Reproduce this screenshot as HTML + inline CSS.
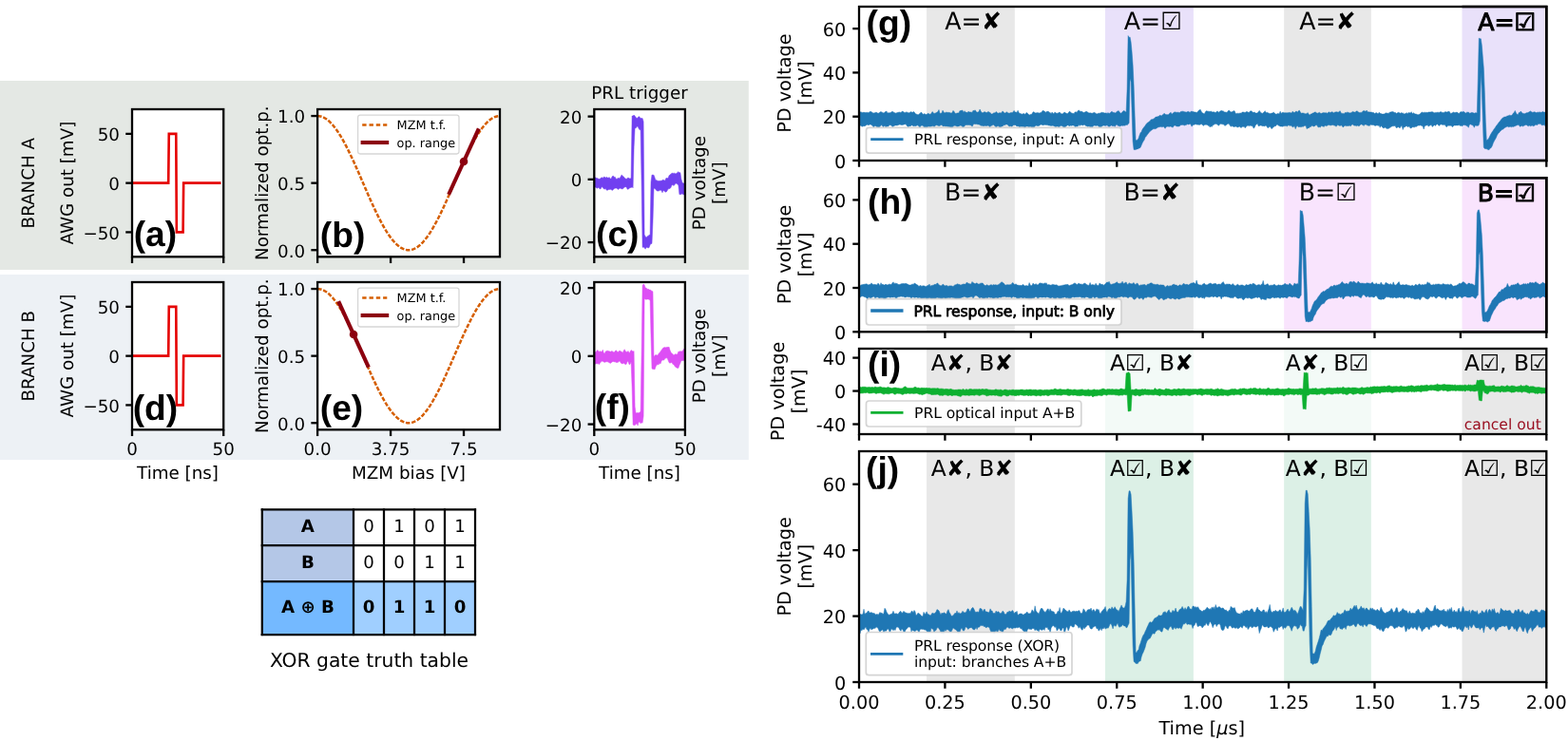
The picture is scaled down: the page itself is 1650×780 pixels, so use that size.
<!DOCTYPE html>
<html lang="en"><head><meta charset="utf-8"><title>XOR gate figure</title>
<style>html,body{margin:0;padding:0;background:#fff;}svg{display:block;}text{font-family:"DejaVu Sans","Liberation Sans",sans-serif;fill:#000;text-rendering:geometricPrecision;}.lb{font-family:"Liberation Sans","DejaVu Sans",sans-serif;font-weight:bold;}.b{font-weight:bold;}</style></head><body>
<svg width="1650" height="780" viewBox="0 0 1650 780">
<rect x="0" y="0" width="1650" height="780" fill="#fff"/>
<rect x="0" y="85" width="787.8" height="199" fill="#e4e8e4" />
<rect x="0" y="289" width="787.8" height="195" fill="#edf1f5" />
<text x="36" y="192.65" font-size="18.3" text-anchor="middle" transform="rotate(-90 36 192.65)" >BRANCH A</text>
<rect x="139" y="115" width="96.2" height="155.3" fill="#fff" />
<polyline points="139,192.65 177.19,192.65 177.77,140.88 185.27,140.88 185.85,244.42 192.58,244.42 193.16,192.65 232.51,192.65" fill="none" stroke="#e50000" stroke-width="2.6" stroke-linejoin="miter"/>
<rect x="139" y="115" width="96.2" height="155.3" fill="none" stroke="#000" stroke-width="2.3"/>
<line x1="132.25" y1="140.88" x2="139" y2="140.88" stroke="#000" stroke-width="2.3" />
<text x="126" y="148.18" font-size="18.3" text-anchor="end" >50</text>
<line x1="132.25" y1="192.65" x2="139" y2="192.65" stroke="#000" stroke-width="2.3" />
<text x="126" y="199.95" font-size="18.3" text-anchor="end" >0</text>
<line x1="132.25" y1="244.42" x2="139" y2="244.42" stroke="#000" stroke-width="2.3" />
<text x="126" y="251.72" font-size="18.3" text-anchor="end" >−50</text>
<line x1="139" y1="270.3" x2="139" y2="277.05" stroke="#000" stroke-width="2.3" />
<line x1="235.2" y1="270.3" x2="235.2" y2="277.05" stroke="#000" stroke-width="2.3" />
<text x="77" y="192.65" font-size="18.3" text-anchor="middle" transform="rotate(-90 77 192.65)" >AWG out [mV]</text>
<text x="163.4" y="259" font-size="37.2" text-anchor="middle" class="lb">(a)</text>
<rect x="334.1" y="115" width="191.9" height="155.3" fill="#fff" />
<polyline points="334.1,122.06 335.7,122.16 337.3,122.45 338.9,122.93 340.5,123.6 342.1,124.46 343.7,125.51 345.29,126.75 346.89,128.16 348.49,129.75 350.09,131.52 351.69,133.45 353.29,135.54 354.89,137.79 356.49,140.19 358.09,142.73 359.69,145.42 361.29,148.23 362.88,151.16 364.48,154.2 366.08,157.35 367.68,160.6 369.28,163.94 370.88,167.35 372.48,170.84 374.08,174.38 375.68,177.97 377.28,181.61 378.88,185.27 380.48,188.96 382.08,192.65 383.67,196.34 385.27,200.03 386.87,203.69 388.47,207.33 390.07,210.92 391.67,214.46 393.27,217.95 394.87,221.36 396.47,224.7 398.07,227.95 399.67,231.1 401.26,234.14 402.86,237.07 404.46,239.88 406.06,242.57 407.66,245.11 409.26,247.51 410.86,249.76 412.46,251.85 414.06,253.78 415.66,255.55 417.26,257.14 418.86,258.55 420.45,259.79 422.05,260.84 423.65,261.7 425.25,262.37 426.85,262.85 428.45,263.14 430.05,263.24 431.65,263.14 433.25,262.85 434.85,262.37 436.45,261.7 438.05,260.84 439.65,259.79 441.24,258.55 442.84,257.14 444.44,255.55 446.04,253.78 447.64,251.85 449.24,249.76 450.84,247.51 452.44,245.11 454.04,242.57 455.64,239.88 457.24,237.07 458.84,234.14 460.43,231.1 462.03,227.95 463.63,224.7 465.23,221.36 466.83,217.95 468.43,214.46 470.03,210.92 471.63,207.33 473.23,203.69 474.83,200.03 476.43,196.34 478.02,192.65 479.62,188.96 481.22,185.27 482.82,181.61 484.42,177.97 486.02,174.38 487.62,170.84 489.22,167.35 490.82,163.94 492.42,160.6 494.02,157.35 495.62,154.2 497.22,151.16 498.81,148.23 500.41,145.42 502.01,142.73 503.61,140.19 505.21,137.79 506.81,135.54 508.41,133.45 510.01,131.52 511.61,129.75 513.21,128.16 514.81,126.75 516.4,125.51 518,124.46 519.6,123.6 521.2,122.93 522.8,122.45 524.4,122.16 526,122.06" fill="none" stroke="#d55e00" stroke-width="2.5" stroke-dasharray="4.5 1.7" stroke-dashoffset="0"/>
<line x1="472.13" y1="204.76" x2="503.83" y2="135.33" stroke="#8c000f" stroke-width="4.1" />
<circle cx="488.03" cy="169.94" r="4.3" fill="#8c000f"/>
<rect x="376.6" y="121.2" width="106.4" height="40.8" rx="2.4" ry="2.4" fill="#fff" fill-opacity="0.8" stroke="#ccc" stroke-opacity="0.8" stroke-width="1.3"/>
<line x1="381.2" y1="131.5" x2="407.3" y2="131.5" stroke="#d55e00" stroke-width="2.7" stroke-dasharray="4.4 2.9"/>
<line x1="379.6" y1="150" x2="409.2" y2="150" stroke="#8c000f" stroke-width="4.1" />
<text x="417.6" y="136" font-size="12.85" text-anchor="start" >MZM t.f.</text>
<text x="417.6" y="154.6" font-size="12.85" text-anchor="start" >op. range</text>
<rect x="334.1" y="115" width="191.9" height="155.3" fill="none" stroke="#000" stroke-width="2.3"/>
<line x1="327.35" y1="122.06" x2="334.1" y2="122.06" stroke="#000" stroke-width="2.3" />
<text x="321.1" y="129.36" font-size="18.3" text-anchor="end" >1.0</text>
<line x1="327.35" y1="192.65" x2="334.1" y2="192.65" stroke="#000" stroke-width="2.3" />
<text x="321.1" y="199.95" font-size="18.3" text-anchor="end" >0.5</text>
<line x1="327.35" y1="263.24" x2="334.1" y2="263.24" stroke="#000" stroke-width="2.3" />
<text x="321.1" y="270.54" font-size="18.3" text-anchor="end" >0.0</text>
<line x1="334.1" y1="270.3" x2="334.1" y2="277.05" stroke="#000" stroke-width="2.3" />
<line x1="411.07" y1="270.3" x2="411.07" y2="277.05" stroke="#000" stroke-width="2.3" />
<line x1="488.03" y1="270.3" x2="488.03" y2="277.05" stroke="#000" stroke-width="2.3" />
<text x="281.6" y="192.65" font-size="18.3" text-anchor="middle" transform="rotate(-90 281.6 192.65)" >Normalized opt.p.</text>
<text x="336.8" y="259.5" font-size="37.2" text-anchor="start" class="lb">(b)</text>
<rect x="625.3" y="115" width="95.6" height="155.3" fill="#fff" />
<clipPath id="clc0"><rect x="625.3" y="115" width="95.6" height="155.3"/></clipPath>
<path d="M625.3,188.1L626.3,186.8L627.3,187.3L628.3,187.4L629.3,187.9L630.3,188.5L631.3,188.3L632.3,187.3L633.3,186.7L634.3,187.5L635.3,186.2L636.3,186.3L637.2,187.2L638.2,186.2L639.2,187.1L640.2,187.2L641.2,186.6L642.2,188.3L643.2,187.7L644.2,185.8L645.2,185L646.2,186.4L647.2,186.2L648.2,188.2L649.2,188.6L650.2,187.3L651.2,187.7L652.2,187.5L653.2,185.8L654.2,183.9L655.2,185.5L656.2,185.8L657.2,187.3L658.2,188L659.2,188.4L660.2,187.5L661.1,187.1L662.1,187.8L663.1,188L664.1,187.4L665.1,122L666.1,122.1L667.1,121L668.1,122.2L669.1,123.4L670.1,124.4L671.1,124.1L672.1,122.6L673.1,123.2L674.1,124.5L675.1,124.6L676.1,124.6L677.1,127.9L678.1,246.9L679.1,248.7L680.1,250.3L681.1,248.8L682.1,248.4L683.1,247.2L684.1,247.6L685,191.8L686,184L687,184.3L688,184.2L689,186.9L690,190.1L691,189.4L692,190.4L693,190.4L694,190.6L695,190.2L696,190.3L697,189.7L698,189L699,190.2L700,189.7L701,187.3L702,187.7L703,187.6L704,184.9L705,183.8L706,183.6L707,182.1L708,182.4L708.9,182.4L709.9,182.2L710.9,183L711.9,182.4L712.9,181.4L713.9,180.7L714.9,181.7L715.9,181.7L716.9,188.6L717.9,192.1L718.9,192.9L719.9,192.9L720.9,193.2L720.9,203.9L719.9,205L718.9,204.7L717.9,203.8L716.9,204.6L715.9,204.7L714.9,204.6L713.9,195L712.9,194.1L711.9,193.3L710.9,192.9L709.9,194.6L708.9,195.6L708,194.4L707,194.7L706,197.3L705,198.5L704,198.5L703,199.1L702,200.9L701,202.2L700,201.9L699,201.1L698,200.4L697,202.8L696,200.5L695,200.1L694,200.6L693,201.1L692,201.1L691,200.8L690,199.5L689,198.5L688,197.9L687,232.5L686,256.4L685,256.4L684.1,257.8L683.1,260.6L682.1,260.9L681.1,260.6L680.1,260.2L679.1,262.2L678.1,260.7L677.1,259.9L676.1,260.4L675.1,191.6L674.1,136.3L673.1,136.8L672.1,135.2L671.1,132.9L670.1,133.2L669.1,134.9L668.1,134.8L667.1,154.7L666.1,197.8L665.1,196.8L664.1,197.6L663.1,197.5L662.1,198.5L661.1,199.1L660.2,199.3L659.2,196.9L658.2,196.7L657.2,197L656.2,198.1L655.2,199.1L654.2,198.7L653.2,198.5L652.2,197.9L651.2,199.1L650.2,199.4L649.2,198.2L648.2,197.9L647.2,198.2L646.2,198.5L645.2,199.7L644.2,200.4L643.2,199.6L642.2,199.3L641.2,199.6L640.2,199.4L639.2,200.4L638.2,199.9L637.2,198.5L636.3,199.1L635.3,198.8L634.3,197.5L633.3,196.5L632.3,198.5L631.3,199L630.3,197.7L629.3,197.4L628.3,198.3L627.3,197.5L626.3,197L625.3,197.9Z" fill="#7140f0" stroke="#7140f0" stroke-width="0.5" stroke-linejoin="round" clip-path="url(#clc0)"/>
<rect x="625.3" y="115" width="95.6" height="155.3" fill="none" stroke="#000" stroke-width="2.3"/>
<line x1="618.55" y1="122.62" x2="625.3" y2="122.62" stroke="#000" stroke-width="2.3" />
<text x="612.3" y="129.92" font-size="18.3" text-anchor="end" >20</text>
<line x1="618.55" y1="188.84" x2="625.3" y2="188.84" stroke="#000" stroke-width="2.3" />
<text x="612.3" y="196.14" font-size="18.3" text-anchor="end" >0</text>
<line x1="618.55" y1="255.07" x2="625.3" y2="255.07" stroke="#000" stroke-width="2.3" />
<text x="612.3" y="262.37" font-size="18.3" text-anchor="end" >−20</text>
<line x1="625.3" y1="270.3" x2="625.3" y2="277.05" stroke="#000" stroke-width="2.3" />
<line x1="720.9" y1="270.3" x2="720.9" y2="277.05" stroke="#000" stroke-width="2.3" />
<text x="742.5" y="192.65" font-size="18.3" text-anchor="middle" transform="rotate(-90 742.5 192.65)" >PD voltage</text>
<text x="763.2" y="192.65" font-size="18.3" text-anchor="middle" transform="rotate(-90 763.2 192.65)" >[mV]</text>
<text x="627" y="259" font-size="37.2" text-anchor="start" class="lb">(c)</text>
<text x="673" y="104" font-size="18.3" text-anchor="middle" >PRL trigger</text>
<text x="36" y="374.65" font-size="18.3" text-anchor="middle" transform="rotate(-90 36 374.65)" >BRANCH B</text>
<rect x="139" y="297" width="96.2" height="155.3" fill="#fff" />
<polyline points="139,374.65 177.19,374.65 177.77,322.88 185.27,322.88 185.85,426.42 192.58,426.42 193.16,374.65 232.51,374.65" fill="none" stroke="#e50000" stroke-width="2.6" stroke-linejoin="miter"/>
<rect x="139" y="297" width="96.2" height="155.3" fill="none" stroke="#000" stroke-width="2.3"/>
<line x1="132.25" y1="322.88" x2="139" y2="322.88" stroke="#000" stroke-width="2.3" />
<text x="126" y="330.18" font-size="18.3" text-anchor="end" >50</text>
<line x1="132.25" y1="374.65" x2="139" y2="374.65" stroke="#000" stroke-width="2.3" />
<text x="126" y="381.95" font-size="18.3" text-anchor="end" >0</text>
<line x1="132.25" y1="426.42" x2="139" y2="426.42" stroke="#000" stroke-width="2.3" />
<text x="126" y="433.72" font-size="18.3" text-anchor="end" >−50</text>
<line x1="139" y1="452.3" x2="139" y2="459.05" stroke="#000" stroke-width="2.3" />
<text x="139" y="478.7" font-size="18.3" text-anchor="middle" >0</text>
<line x1="235.2" y1="452.3" x2="235.2" y2="459.05" stroke="#000" stroke-width="2.3" />
<text x="235.2" y="478.7" font-size="18.3" text-anchor="middle" >50</text>
<text x="77" y="374.65" font-size="18.3" text-anchor="middle" transform="rotate(-90 77 374.65)" >AWG out [mV]</text>
<text x="163.4" y="442.3" font-size="37.2" text-anchor="middle" class="lb">(d)</text>
<text x="187" y="503.5" font-size="18.3" text-anchor="middle" >Time [ns]</text>
<rect x="334.1" y="297" width="191.9" height="155.3" fill="#fff" />
<polyline points="334.1,304.06 335.7,304.16 337.3,304.45 338.9,304.93 340.5,305.6 342.1,306.46 343.7,307.51 345.29,308.75 346.89,310.16 348.49,311.75 350.09,313.52 351.69,315.45 353.29,317.54 354.89,319.79 356.49,322.19 358.09,324.73 359.69,327.42 361.29,330.23 362.88,333.16 364.48,336.2 366.08,339.35 367.68,342.6 369.28,345.94 370.88,349.35 372.48,352.84 374.08,356.38 375.68,359.97 377.28,363.61 378.88,367.27 380.48,370.96 382.08,374.65 383.67,378.34 385.27,382.03 386.87,385.69 388.47,389.33 390.07,392.92 391.67,396.46 393.27,399.95 394.87,403.36 396.47,406.7 398.07,409.95 399.67,413.1 401.26,416.14 402.86,419.07 404.46,421.88 406.06,424.57 407.66,427.11 409.26,429.51 410.86,431.76 412.46,433.85 414.06,435.78 415.66,437.55 417.26,439.14 418.86,440.55 420.45,441.79 422.05,442.84 423.65,443.7 425.25,444.37 426.85,444.85 428.45,445.14 430.05,445.24 431.65,445.14 433.25,444.85 434.85,444.37 436.45,443.7 438.05,442.84 439.65,441.79 441.24,440.55 442.84,439.14 444.44,437.55 446.04,435.78 447.64,433.85 449.24,431.76 450.84,429.51 452.44,427.11 454.04,424.57 455.64,421.88 457.24,419.07 458.84,416.14 460.43,413.1 462.03,409.95 463.63,406.7 465.23,403.36 466.83,399.95 468.43,396.46 470.03,392.92 471.63,389.33 473.23,385.69 474.83,382.03 476.43,378.34 478.02,374.65 479.62,370.96 481.22,367.27 482.82,363.61 484.42,359.97 486.02,356.38 487.62,352.84 489.22,349.35 490.82,345.94 492.42,342.6 494.02,339.35 495.62,336.2 497.22,333.16 498.81,330.23 500.41,327.42 502.01,324.73 503.61,322.19 505.21,319.79 506.81,317.54 508.41,315.45 510.01,313.52 511.61,311.75 513.21,310.16 514.81,308.75 516.4,307.51 518,306.46 519.6,305.6 521.2,304.93 522.8,304.45 524.4,304.16 526,304.06" fill="none" stroke="#d55e00" stroke-width="2.5" stroke-dasharray="4.5 1.7" stroke-dashoffset="0"/>
<line x1="356.17" y1="317.11" x2="387.87" y2="386.54" stroke="#8c000f" stroke-width="4.1" />
<circle cx="372.07" cy="351.94" r="4.3" fill="#8c000f"/>
<rect x="376.6" y="303.2" width="106.4" height="40.8" rx="2.4" ry="2.4" fill="#fff" fill-opacity="0.8" stroke="#ccc" stroke-opacity="0.8" stroke-width="1.3"/>
<line x1="381.2" y1="313.5" x2="407.3" y2="313.5" stroke="#d55e00" stroke-width="2.7" stroke-dasharray="4.4 2.9"/>
<line x1="379.6" y1="332" x2="409.2" y2="332" stroke="#8c000f" stroke-width="4.1" />
<text x="417.6" y="318" font-size="12.85" text-anchor="start" >MZM t.f.</text>
<text x="417.6" y="336.6" font-size="12.85" text-anchor="start" >op. range</text>
<rect x="334.1" y="297" width="191.9" height="155.3" fill="none" stroke="#000" stroke-width="2.3"/>
<line x1="327.35" y1="304.06" x2="334.1" y2="304.06" stroke="#000" stroke-width="2.3" />
<text x="321.1" y="311.36" font-size="18.3" text-anchor="end" >1.0</text>
<line x1="327.35" y1="374.65" x2="334.1" y2="374.65" stroke="#000" stroke-width="2.3" />
<text x="321.1" y="381.95" font-size="18.3" text-anchor="end" >0.5</text>
<line x1="327.35" y1="445.24" x2="334.1" y2="445.24" stroke="#000" stroke-width="2.3" />
<text x="321.1" y="452.54" font-size="18.3" text-anchor="end" >0.0</text>
<line x1="334.1" y1="452.3" x2="334.1" y2="459.05" stroke="#000" stroke-width="2.3" />
<text x="334.1" y="478.7" font-size="18.3" text-anchor="middle" >0.0</text>
<line x1="411.07" y1="452.3" x2="411.07" y2="459.05" stroke="#000" stroke-width="2.3" />
<text x="411.07" y="478.7" font-size="18.3" text-anchor="middle" >3.75</text>
<line x1="488.03" y1="452.3" x2="488.03" y2="459.05" stroke="#000" stroke-width="2.3" />
<text x="488.03" y="478.7" font-size="18.3" text-anchor="middle" >7.5</text>
<text x="281.6" y="374.65" font-size="18.3" text-anchor="middle" transform="rotate(-90 281.6 374.65)" >Normalized opt.p.</text>
<text x="336.8" y="441.5" font-size="37.2" text-anchor="start" class="lb">(e)</text>
<text x="430" y="503.5" font-size="18.3" text-anchor="middle" >MZM bias [V]</text>
<rect x="625.3" y="297" width="95.6" height="155.3" fill="#fff" />
<clipPath id="clc1"><rect x="625.3" y="297" width="95.6" height="155.3"/></clipPath>
<path d="M625.3,369.5L626.3,370.4L627.3,370.5L628.3,368.8L629.3,368.8L630.3,370.4L631.3,369.4L632.3,370.3L633.3,370.1L634.3,368.2L635.3,371.5L636.3,372.3L637.2,370.1L638.2,369.4L639.2,369.2L640.2,369.6L641.2,369.7L642.2,370.3L643.2,369.8L644.2,369.5L645.2,370.5L646.2,370.9L647.2,369.6L648.2,368.8L649.2,369.6L650.2,370.9L651.2,369.5L652.2,369.3L653.2,369.7L654.2,370.3L655.2,371.4L656.2,369.2L657.2,367.7L658.2,369.8L659.2,370.4L660.2,370.2L661.1,369.5L662.1,371.8L663.1,370.3L664.1,368.5L665.1,369.3L666.1,370L667.1,369.5L668.1,427.9L669.1,434.9L670.1,434.6L671.1,434.6L672.1,434.8L673.1,434.1L674.1,433.3L675.1,373.6L676.1,300.6L677.1,299.1L678.1,299.8L679.1,302.9L680.1,303.1L681.1,304.5L682.1,304L683.1,305.1L684.1,305.1L685,305.6L686,306.5L687,306.8L688,375.5L689,374.2L690,373.6L691,373.7L692,374.3L693,372.2L694,371.6L695,370L696,368.6L697,367.3L698,366.1L699,365.7L700,365.6L701,366.1L702,365.1L703,365.8L704,365.1L705,368.6L706,370.8L707,372.2L708,372.5L708.9,373.9L709.9,373.2L710.9,372.5L711.9,373.2L712.9,372.7L713.9,370L714.9,370.2L715.9,369.5L716.9,370L717.9,369.7L718.9,368.5L719.9,367.1L720.9,365.9L720.9,379.7L719.9,379.6L718.9,379.6L717.9,379.7L716.9,379.4L715.9,382.3L714.9,384.5L713.9,387.4L712.9,387.4L711.9,387L710.9,386.4L709.9,385.3L708.9,383.4L708,383.5L707,381.4L706,381.8L705,382.2L704,381.6L703,379L702,376.8L701,376.8L700,377.3L699,378.7L698,379.3L697,378.7L696,380.2L695,383L694,382.3L693,384L692,383.6L691,384.2L690,385.9L689,388.9L688,388.5L687,388.5L686,388.1L685,352.9L684.1,316.5L683.1,315.3L682.1,314.9L681.1,314.9L680.1,315.2L679.1,315.1L678.1,314.4L677.1,438.2L676.1,445.3L675.1,444.7L674.1,445.8L673.1,444.3L672.1,444L671.1,448.1L670.1,445.7L669.1,446.4L668.1,447.8L667.1,447.4L666.1,447.2L665.1,407.5L664.1,380.8L663.1,383.2L662.1,383.7L661.1,380.8L660.2,380.3L659.2,383.2L658.2,383.8L657.2,383L656.2,381.9L655.2,382.9L654.2,382.7L653.2,381.9L652.2,380L651.2,380.6L650.2,381.4L649.2,381.5L648.2,381.5L647.2,380.8L646.2,380.9L645.2,380.5L644.2,380.9L643.2,381.7L642.2,382.6L641.2,381.7L640.2,381.2L639.2,380.8L638.2,380.8L637.2,381L636.3,381.4L635.3,381L634.3,380.3L633.3,380.3L632.3,381L631.3,382.3L630.3,383.7L629.3,382.6L628.3,383L627.3,382.7L626.3,383.3L625.3,383.6Z" fill="#dd4ef5" stroke="#dd4ef5" stroke-width="0.5" stroke-linejoin="round" clip-path="url(#clc1)"/>
<rect x="625.3" y="297" width="95.6" height="155.3" fill="none" stroke="#000" stroke-width="2.3"/>
<line x1="618.55" y1="303.1" x2="625.3" y2="303.1" stroke="#000" stroke-width="2.3" />
<text x="612.3" y="310.4" font-size="18.3" text-anchor="end" >20</text>
<line x1="618.55" y1="374.83" x2="625.3" y2="374.83" stroke="#000" stroke-width="2.3" />
<text x="612.3" y="382.13" font-size="18.3" text-anchor="end" >0</text>
<line x1="618.55" y1="446.56" x2="625.3" y2="446.56" stroke="#000" stroke-width="2.3" />
<text x="612.3" y="453.86" font-size="18.3" text-anchor="end" >−20</text>
<line x1="625.3" y1="452.3" x2="625.3" y2="459.05" stroke="#000" stroke-width="2.3" />
<text x="625.3" y="478.7" font-size="18.3" text-anchor="middle" >0</text>
<line x1="720.9" y1="452.3" x2="720.9" y2="459.05" stroke="#000" stroke-width="2.3" />
<text x="720.9" y="478.7" font-size="18.3" text-anchor="middle" >50</text>
<text x="742.5" y="374.65" font-size="18.3" text-anchor="middle" transform="rotate(-90 742.5 374.65)" >PD voltage</text>
<text x="763.2" y="374.65" font-size="18.3" text-anchor="middle" transform="rotate(-90 763.2 374.65)" >[mV]</text>
<text x="625.8" y="441" font-size="37.2" text-anchor="start" class="lb">(f)</text>
<text x="673" y="503.5" font-size="18.3" text-anchor="middle" >Time [ns]</text>
<rect x="275.8" y="536.4" width="96.2" height="75.6" fill="#b4c7e7" />
<rect x="275.8" y="612" width="96.2" height="56" fill="#74b9ff" />
<rect x="372" y="612" width="128" height="56" fill="#a0cfff" />
<line x1="275.8" y1="535.3" x2="275.8" y2="669.1" stroke="#000" stroke-width="2.25" />
<line x1="372" y1="535.3" x2="372" y2="669.1" stroke="#000" stroke-width="2.25" />
<line x1="404" y1="535.3" x2="404" y2="669.1" stroke="#000" stroke-width="2.25" />
<line x1="436" y1="535.3" x2="436" y2="669.1" stroke="#000" stroke-width="2.25" />
<line x1="468" y1="535.3" x2="468" y2="669.1" stroke="#000" stroke-width="2.25" />
<line x1="500" y1="535.3" x2="500" y2="669.1" stroke="#000" stroke-width="2.25" />
<line x1="274.7" y1="536.4" x2="501.1" y2="536.4" stroke="#000" stroke-width="2.25" />
<line x1="274.7" y1="574.1" x2="501.1" y2="574.1" stroke="#000" stroke-width="2.25" />
<line x1="274.7" y1="612" x2="501.1" y2="612" stroke="#000" stroke-width="2.25" />
<line x1="274.7" y1="668" x2="501.1" y2="668" stroke="#000" stroke-width="2.25" />
<text x="323.9" y="560.45" font-size="18.2" text-anchor="middle" class="b">A</text>
<text x="388" y="560.45" font-size="18.2" text-anchor="middle" >0</text>
<text x="420" y="560.45" font-size="18.2" text-anchor="middle" >1</text>
<text x="452" y="560.45" font-size="18.2" text-anchor="middle" >0</text>
<text x="484" y="560.45" font-size="18.2" text-anchor="middle" >1</text>
<text x="323.9" y="598.25" font-size="18.2" text-anchor="middle" class="b">B</text>
<text x="388" y="598.25" font-size="18.2" text-anchor="middle" >0</text>
<text x="420" y="598.25" font-size="18.2" text-anchor="middle" >0</text>
<text x="452" y="598.25" font-size="18.2" text-anchor="middle" >1</text>
<text x="484" y="598.25" font-size="18.2" text-anchor="middle" >1</text>
<text x="323.9" y="645.2" font-size="18.2" text-anchor="middle" class="b">A ⊕ B</text>
<text x="388" y="645.2" font-size="18.2" text-anchor="middle" class="b">0</text>
<text x="420" y="645.2" font-size="18.2" text-anchor="middle" class="b">1</text>
<text x="452" y="645.2" font-size="18.2" text-anchor="middle" class="b">1</text>
<text x="484" y="645.2" font-size="18.2" text-anchor="middle" class="b">0</text>
<text x="388.5" y="701.5" font-size="20.3" text-anchor="middle" >XOR gate truth table</text>
<clipPath id="cg"><rect x="904" y="7" width="723.3" height="162"/></clipPath>
<rect x="975.06" y="7" width="92.76" height="162" fill="#e8e8e8" />
<rect x="1162.94" y="7" width="92.94" height="162" fill="#e9e1fa" />
<rect x="1351.18" y="7" width="91.68" height="162" fill="#e8e8e8" />
<rect x="1538.51" y="7" width="88.79" height="162" fill="#e9e1fa" />
<path d="M904,117.4L905,117.9L906,117.7L907,118.5L908,118.6L909,118.1L910,118.6L911,118.5L912,118.4L913,118.2L914,119.1L915,117.6L916,117.7L917,117.5L918,118.6L919,119.2L920,118.8L921,118.7L922,118L923,118.8L924,119.3L925,118.9L926,118.1L927,117.5L928,118.2L929,118.4L930,119.2L931,118.1L932,117.4L933,117.1L934,119.2L935,118.6L936,119L937,118.4L938,118.1L939,117.2L940,117.9L941,118.5L942,118.9L943,119.2L944,118.4L945,118.6L946,117.9L947,118.2L948,118.5L949,117.6L950,117L951,118.3L952,118.4L953,118.4L954,117.7L955,118.5L956,118.8L957,118.7L958,118.1L959,117.6L960,118.6L961,117.6L962,117.9L963,119.2L964,120.2L965,120.2L966,121L967,120.2L968,119.5L969,118.3L970,118.6L971,120.3L972,120.3L973,119.5L974,120.6L975,120.6L976,119.7L977,119.2L978,120.3L979,120.2L980,119.6L981,117.6L982,118.4L983,119.4L984,119.2L985,118.7L986,118.3L987,117.4L988,115.6L989,119.5L990,119.3L991,119.1L992,116.2L993,117.7L994,118.9L995,118.5L996,117.9L997,118.6L998,118.2L999,118.5L1000,118.7L1001,119.2L1002,118.6L1003,116.4L1004,117.4L1005,119.3L1006,119.5L1007,119L1008,118.9L1009,118.9L1010,116.6L1011,116.8L1012,116.1L1013,116.3L1014,118.4L1015,116.7L1016,118.3L1017,118.1L1018,118.8L1019,117.2L1020,118.1L1021,118L1022,117.9L1023,118.5L1024,116.3L1025.1,116.7L1026.1,115.8L1027.1,117.3L1028.1,118.3L1029.1,118L1030.1,117.6L1031.1,115.1L1032.1,117.1L1033.1,118.6L1034.1,118.8L1035.1,118.2L1036.1,117.6L1037.1,118.3L1038.1,118.6L1039.1,118.2L1040.1,117.3L1041.1,118.4L1042.1,118.6L1043.1,120.1L1044.1,120.1L1045.1,119.2L1046.1,118.8L1047.1,118.9L1048.1,117.6L1049.1,118.3L1050.1,119.3L1051.1,119L1052.1,118.6L1053.1,119.2L1054.1,118.3L1055.1,116.9L1056.1,118.1L1057.1,119L1058.1,119L1059.1,117.7L1060.1,118.4L1061.1,119L1062.1,119.2L1063.1,118.8L1064.1,118.4L1065.1,118.7L1066.1,117.8L1067.1,116.4L1068.1,118L1069.1,118L1070.1,118.4L1071.1,116.3L1072.1,118.4L1073.1,119.4L1074.1,119.5L1075.1,120.2L1076.1,120.1L1077.1,119.3L1078.1,120.2L1079.1,120L1080.1,118.4L1081.1,119.2L1082.1,120.1L1083.1,121.2L1084.1,120.4L1085.1,120.6L1086.1,119.6L1087.1,117.9L1088.1,117.8L1089.1,119.1L1090.1,118.7L1091.1,119L1092.1,118.3L1093.1,119.3L1094.1,118.7L1095.1,118.7L1096.1,118.1L1097.1,116.4L1098.1,116.7L1099.1,117L1100.1,118.4L1101.1,117.4L1102.1,117.5L1103.1,117.1L1104.1,118.4L1105.1,118.4L1106.1,119.7L1107.1,118L1108.1,119.4L1109.1,119.4L1110.1,117.9L1111.1,119.1L1112.1,119.2L1113.1,119.2L1114.1,118.6L1115.1,118L1116.1,119.5L1117.1,119.8L1118.1,119.9L1119.1,119L1120.1,118.1L1121.1,118.8L1122.1,119.3L1123.1,119.7L1124.1,119.1L1125.1,117.5L1126.1,117.6L1127.1,118.8L1128.1,119.2L1129.1,119.3L1130.1,119.7L1131.1,118L1132.1,117.8L1133.1,118.4L1134.1,116.7L1135.1,115.9L1136.1,116.7L1137.1,117.4L1138.1,117.1L1139.1,117.8L1140.1,118.5L1141.1,118.3L1142.1,117.8L1143.1,117.3L1144.1,117.8L1145.1,118.6L1146.1,119L1147.1,118.8L1148.1,119.1L1149.1,119.3L1150.1,118.9L1151.1,118.4L1152.1,118.4L1153.1,119.4L1154.1,120.1L1155.1,119.6L1156.1,119.2L1157.1,119.2L1158.1,119L1159.1,118.2L1160.1,118.5L1161.1,118.4L1162.1,119L1163.1,118.9L1164.1,119L1165.1,119.4L1166.1,118.6L1167.1,119.6L1168.1,118.9L1169.1,117.9L1170.1,117.2L1171.1,118.5L1172.1,118.2L1173.1,118.9L1174.1,118.8L1175.1,117.4L1176.1,117.2L1177.1,116.5L1178.1,118L1179.1,119.2L1180.1,119.1L1181.1,117.7L1182.1,116.8L1183.1,116.6L1184.1,117.6L1185.1,118.3L1186.1,93.8L1187.1,37.6L1188.1,39.4L1189.1,39.1L1190.1,44.4L1191.1,55.1L1192.1,68.5L1193.1,90.3L1194.1,121.2L1195.1,147.6L1196.1,147.7L1197.1,147L1198.1,145.4L1199.1,142.3L1200.1,139.7L1201.1,138.7L1202.1,136.3L1203.1,134.8L1204.1,133.5L1205.1,132.3L1206.1,130.7L1207.1,129.4L1208.1,129L1209.1,128.1L1210.1,127.6L1211.1,125.9L1212.1,125.7L1213.1,125.4L1214.1,125L1215.1,124.2L1216.1,123.1L1217.1,123.1L1218.1,122.8L1219.1,122.6L1220.1,121.5L1221.1,121.3L1222.1,122.2L1223.1,121L1224.1,120.6L1225.1,119.2L1226.1,120.3L1227.1,120.7L1228.1,120.6L1229.1,120.9L1230.1,120.1L1231.1,119L1232.1,118.3L1233.1,120.2L1234.1,119.2L1235.1,118.5L1236.1,117.8L1237.1,118.2L1238.1,118.2L1239.1,118.3L1240.1,118.2L1241.1,118.7L1242.1,117.7L1243.1,117.4L1244.1,117.2L1245.1,117.2L1246.1,117.7L1247.1,117.7L1248.1,118.3L1249.1,117.8L1250.1,117.4L1251.1,117.5L1252.1,118.5L1253.1,117.3L1254.1,117.3L1255.1,117.4L1256.1,117.8L1257.1,118L1258.1,118.1L1259.1,118.4L1260.1,118.1L1261.1,116.5L1262.1,115.9L1263.1,115.2L1264.1,117.2L1265.1,118.8L1266.2,119.3L1267.2,119.9L1268.2,118.3L1269.2,116.8L1270.2,116.9L1271.2,117.2L1272.2,117.2L1273.2,117.5L1274.2,117L1275.2,117.8L1276.2,117.9L1277.2,117.7L1278.2,118.3L1279.2,118.4L1280.2,117.6L1281.2,116.9L1282.2,118.4L1283.2,117.5L1284.2,117L1285.2,116.3L1286.2,116.9L1287.2,116.7L1288.2,117.9L1289.2,117.9L1290.2,118.3L1291.2,118.2L1292.2,117L1293.2,116L1294.2,116.9L1295.2,118.1L1296.2,117.7L1297.2,117.6L1298.2,116.5L1299.2,117L1300.2,119.4L1301.2,119.4L1302.2,119.2L1303.2,119.4L1304.2,119.2L1305.2,119L1306.2,119.2L1307.2,118L1308.2,118L1309.2,118.2L1310.2,118.5L1311.2,117.7L1312.2,117.5L1313.2,118.1L1314.2,118.5L1315.2,117.3L1316.2,116.7L1317.2,117.1L1318.2,118.3L1319.2,118.3L1320.2,118.1L1321.2,119L1322.2,119L1323.2,119L1324.2,117.7L1325.2,116.4L1326.2,117.9L1327.2,118.7L1328.2,119.4L1329.2,118.8L1330.2,118L1331.2,116.7L1332.2,118.7L1333.2,118.3L1334.2,118.7L1335.2,119.2L1336.2,119.4L1337.2,119.6L1338.2,119.1L1339.2,119L1340.2,118.1L1341.2,119L1342.2,120.1L1343.2,120.2L1344.2,119.4L1345.2,119.7L1346.2,119.7L1347.2,117.2L1348.2,119.4L1349.2,118.6L1350.2,118.2L1351.2,118.7L1352.2,118.7L1353.2,118.8L1354.2,118.8L1355.2,118.7L1356.2,118.5L1357.2,118.4L1358.2,118.7L1359.2,119L1360.2,117.2L1361.2,118.3L1362.2,118.5L1363.2,117.6L1364.2,117L1365.2,118.3L1366.2,117L1367.2,116.1L1368.2,117.7L1369.2,119.3L1370.2,119L1371.2,119L1372.2,119.2L1373.2,119.7L1374.2,119.8L1375.2,119.5L1376.2,118.6L1377.2,120.2L1378.2,121.2L1379.2,120L1380.2,119.9L1381.2,119.1L1382.2,119.1L1383.2,118.1L1384.2,117.9L1385.2,118.7L1386.2,119.2L1387.2,118.9L1388.2,118.2L1389.2,118.9L1390.2,119.6L1391.2,119.1L1392.2,118.7L1393.2,118.6L1394.2,119L1395.2,118.4L1396.2,119.2L1397.2,119L1398.2,117.8L1399.2,118.5L1400.2,118.3L1401.2,117.9L1402.2,117.7L1403.2,119L1404.2,118.3L1405.2,118L1406.2,117.7L1407.2,117.9L1408.2,118.2L1409.2,117.4L1410.2,116.8L1411.2,119L1412.2,119.4L1413.2,119.2L1414.2,119.9L1415.2,118.5L1416.2,118.8L1417.2,118.2L1418.2,118.2L1419.2,118.4L1420.2,118.9L1421.2,118.8L1422.2,118.4L1423.2,117.5L1424.2,117.8L1425.2,118.1L1426.2,118.2L1427.2,116.9L1428.2,116.9L1429.2,117.8L1430.2,118.5L1431.2,118.4L1432.2,118.4L1433.2,118.2L1434.2,116.9L1435.2,116.5L1436.2,116.9L1437.2,117.2L1438.2,116.1L1439.2,117.9L1440.2,117.8L1441.2,118.1L1442.2,118L1443.2,118.1L1444.2,118.5L1445.2,118.2L1446.2,119.6L1447.2,119.2L1448.2,118.5L1449.2,119.2L1450.2,119.8L1451.2,118.3L1452.2,119.2L1453.2,119.6L1454.2,120L1455.2,120.1L1456.2,120.1L1457.2,119.7L1458.2,118.7L1459.2,119.3L1460.2,119L1461.2,119.4L1462.2,118.2L1463.2,118.1L1464.2,117.7L1465.2,117.6L1466.2,117.7L1467.2,118.5L1468.2,118.2L1469.2,119.6L1470.2,119L1471.2,118.4L1472.2,118.3L1473.2,119.6L1474.2,118.6L1475.2,119.2L1476.2,118.7L1477.2,120L1478.2,119.8L1479.2,119.6L1480.2,118.6L1481.2,120L1482.2,118.4L1483.2,118.8L1484.2,118.9L1485.2,117.7L1486.2,119.7L1487.2,118.7L1488.2,119.4L1489.2,119.9L1490.2,120L1491.2,120.6L1492.2,120.8L1493.2,120.6L1494.2,120L1495.2,119L1496.2,117.9L1497.2,118.5L1498.2,118.4L1499.2,118.2L1500.2,118.4L1501.2,118.3L1502.2,118.6L1503.2,118L1504.2,118.1L1505.2,118L1506.2,117.8L1507.3,117.7L1508.3,118.2L1509.3,118.8L1510.3,118.4L1511.3,118.4L1512.3,118.3L1513.3,118.2L1514.3,118.4L1515.3,117.9L1516.3,117.6L1517.3,118.4L1518.3,118.2L1519.3,118.7L1520.3,117.7L1521.3,117.7L1522.3,118L1523.3,117.7L1524.3,117.3L1525.3,117.6L1526.3,119.4L1527.3,119.2L1528.3,118.8L1529.3,118L1530.3,118.5L1531.3,118.5L1532.3,118.3L1533.3,118.1L1534.3,119.1L1535.3,119.4L1536.3,118.3L1537.3,117.4L1538.3,117.9L1539.3,117.4L1540.3,117.6L1541.3,118.3L1542.3,119.2L1543.3,118.3L1544.3,118.2L1545.3,118L1546.3,119.2L1547.3,119.1L1548.3,118.5L1549.3,118.5L1550.3,118.8L1551.3,119.3L1552.3,118.8L1553.3,118.8L1554.3,118.9L1555.3,82.7L1556.3,40.2L1557.3,40.7L1558.3,40.8L1559.3,47.7L1560.3,59.9L1561.3,71.8L1562.3,97.1L1563.3,128.1L1564.3,147.9L1565.3,146.9L1566.3,146.2L1567.3,144.2L1568.3,142.1L1569.3,140.3L1570.3,138.7L1571.3,137.3L1572.3,135.7L1573.3,134.4L1574.3,132.8L1575.3,131.5L1576.3,130.2L1577.3,128.8L1578.3,127.7L1579.3,126.3L1580.3,125.1L1581.3,124.1L1582.3,123.4L1583.3,123.1L1584.3,123.1L1585.3,122.4L1586.3,122.1L1587.3,121.8L1588.3,121.2L1589.3,121.4L1590.3,121.6L1591.3,120.9L1592.3,119.2L1593.3,118.5L1594.3,116.5L1595.3,119L1596.3,119.9L1597.3,120.9L1598.3,118.6L1599.3,118.5L1600.3,117L1601.3,118.6L1602.3,119.2L1603.3,119.4L1604.3,119.7L1605.3,119.3L1606.3,118.7L1607.3,118.7L1608.3,118.3L1609.3,117.7L1610.3,116.9L1611.3,117.6L1612.3,118.2L1613.3,118.2L1614.3,117.8L1615.3,118L1616.3,118.5L1617.3,118.6L1618.3,117.9L1619.3,118.4L1620.3,117.7L1621.3,118.6L1622.3,118.1L1623.3,117.5L1624.3,117.9L1625.3,118.1L1626.3,118.3L1627.3,117L1627.3,134L1626.3,133.3L1625.3,131.6L1624.3,131.5L1623.3,131.7L1622.3,131.8L1621.3,130.6L1620.3,130.2L1619.3,130.6L1618.3,130.6L1617.3,132L1616.3,131L1615.3,131.8L1614.3,132.6L1613.3,132.7L1612.3,132.1L1611.3,132.4L1610.3,132.8L1609.3,132L1608.3,132.8L1607.3,132.3L1606.3,131.4L1605.3,131.4L1604.3,132.1L1603.3,132.4L1602.3,133.1L1601.3,132.3L1600.3,132.9L1599.3,133.2L1598.3,131.5L1597.3,131.6L1596.3,131.8L1595.3,132.2L1594.3,132.8L1593.3,133.1L1592.3,133.5L1591.3,133.2L1590.3,133.8L1589.3,133.2L1588.3,133.5L1587.3,133.7L1586.3,133.1L1585.3,133.4L1584.3,134.1L1583.3,134.5L1582.3,135.6L1581.3,136.2L1580.3,136.5L1579.3,137.7L1578.3,138.6L1577.3,140L1576.3,140.8L1575.3,142.6L1574.3,145.1L1573.3,146.8L1572.3,148.5L1571.3,150.6L1570.3,153.4L1569.3,155.2L1568.3,156.2L1567.3,157.1L1566.3,158.1L1565.3,157L1564.3,156.8L1563.3,156.5L1562.3,156.4L1561.3,155.1L1560.3,125.2L1559.3,93.9L1558.3,75.7L1557.3,127.3L1556.3,131.3L1555.3,132.4L1554.3,132.3L1553.3,132.3L1552.3,131.9L1551.3,134.3L1550.3,132L1549.3,131.8L1548.3,131.3L1547.3,130.7L1546.3,131.2L1545.3,134.3L1544.3,132.8L1543.3,132.5L1542.3,131.8L1541.3,131.7L1540.3,131.4L1539.3,132L1538.3,133.1L1537.3,132.1L1536.3,132.6L1535.3,131.6L1534.3,131.9L1533.3,131.9L1532.3,131.9L1531.3,132.1L1530.3,132L1529.3,132.7L1528.3,133.8L1527.3,132.3L1526.3,132.2L1525.3,132.2L1524.3,132.2L1523.3,132.3L1522.3,133.8L1521.3,132.8L1520.3,130.9L1519.3,131.6L1518.3,131.3L1517.3,131.3L1516.3,130.8L1515.3,131.4L1514.3,132.6L1513.3,131.5L1512.3,130.4L1511.3,131.5L1510.3,132.4L1509.3,131.4L1508.3,132.6L1507.3,133.6L1506.2,131.5L1505.2,131.8L1504.2,132.2L1503.2,133.2L1502.2,131.5L1501.2,131.9L1500.2,132.2L1499.2,132.8L1498.2,136L1497.2,132.8L1496.2,132.5L1495.2,132.1L1494.2,131.8L1493.2,132.2L1492.2,132L1491.2,132.7L1490.2,133.4L1489.2,133.3L1488.2,134.1L1487.2,133.8L1486.2,133.7L1485.2,134.8L1484.2,135L1483.2,133.5L1482.2,133L1481.2,133.7L1480.2,132.4L1479.2,132.9L1478.2,133.9L1477.2,133.8L1476.2,136.5L1475.2,132.3L1474.2,133L1473.2,134.8L1472.2,134.2L1471.2,133.4L1470.2,134.5L1469.2,134.5L1468.2,132.6L1467.2,132.5L1466.2,132.8L1465.2,132.8L1464.2,133.3L1463.2,134.1L1462.2,134.4L1461.2,135.5L1460.2,135.2L1459.2,135.5L1458.2,134.6L1457.2,134L1456.2,135L1455.2,134.6L1454.2,133.4L1453.2,132.2L1452.2,134.3L1451.2,131.7L1450.2,132.6L1449.2,131.8L1448.2,132.1L1447.2,132.4L1446.2,132.1L1445.2,131.4L1444.2,131.6L1443.2,131.4L1442.2,131L1441.2,132.4L1440.2,132.2L1439.2,132.1L1438.2,131.6L1437.2,131.1L1436.2,131L1435.2,132.5L1434.2,131.6L1433.2,131.2L1432.2,130.7L1431.2,131.8L1430.2,132.7L1429.2,132.6L1428.2,132.1L1427.2,132.8L1426.2,132L1425.2,132.2L1424.2,131.8L1423.2,130.8L1422.2,131.6L1421.2,132.9L1420.2,132L1419.2,132.5L1418.2,132.5L1417.2,132.6L1416.2,132.6L1415.2,132.1L1414.2,133.2L1413.2,133.9L1412.2,132.4L1411.2,131.8L1410.2,132.5L1409.2,132.2L1408.2,131.8L1407.2,131.6L1406.2,133.2L1405.2,132.6L1404.2,132L1403.2,131.8L1402.2,131.4L1401.2,131.7L1400.2,132.1L1399.2,131.7L1398.2,131.6L1397.2,131.8L1396.2,132.6L1395.2,132.6L1394.2,131.9L1393.2,133.6L1392.2,132.9L1391.2,132.8L1390.2,132.5L1389.2,134.2L1388.2,133.4L1387.2,134.1L1386.2,132.6L1385.2,131.6L1384.2,132L1383.2,133L1382.2,133.1L1381.2,132.5L1380.2,132.3L1379.2,133.7L1378.2,133.6L1377.2,134.9L1376.2,134.7L1375.2,135.7L1374.2,132.5L1373.2,132.3L1372.2,132.6L1371.2,133.6L1370.2,133L1369.2,133.8L1368.2,133.6L1367.2,133.5L1366.2,133.7L1365.2,132.2L1364.2,133.5L1363.2,135.7L1362.2,132.5L1361.2,133.6L1360.2,133.7L1359.2,132.8L1358.2,132.1L1357.2,132.5L1356.2,131.8L1355.2,132L1354.2,133.2L1353.2,132.1L1352.2,132.7L1351.2,132.6L1350.2,133.1L1349.2,133.2L1348.2,132.9L1347.2,133.1L1346.2,132.5L1345.2,132.1L1344.2,130.9L1343.2,131.6L1342.2,133L1341.2,132.8L1340.2,133.8L1339.2,134.4L1338.2,135.7L1337.2,134.3L1336.2,133L1335.2,133.9L1334.2,134.8L1333.2,133.5L1332.2,131.9L1331.2,132.5L1330.2,132.9L1329.2,132.4L1328.2,132.7L1327.2,132.1L1326.2,132.1L1325.2,132.5L1324.2,132.7L1323.2,130.1L1322.2,130.9L1321.2,131.7L1320.2,134.2L1319.2,135.1L1318.2,133.3L1317.2,132.2L1316.2,132.6L1315.2,132.1L1314.2,132.8L1313.2,131.9L1312.2,132.5L1311.2,133.6L1310.2,134.8L1309.2,133.1L1308.2,133.4L1307.2,133.2L1306.2,134.6L1305.2,133.9L1304.2,133.1L1303.2,133.7L1302.2,134L1301.2,133.5L1300.2,132.9L1299.2,133.4L1298.2,133.4L1297.2,133.1L1296.2,132.6L1295.2,133.3L1294.2,131.8L1293.2,130.6L1292.2,130L1291.2,131.1L1290.2,131.5L1289.2,132.5L1288.2,131.6L1287.2,130.8L1286.2,130.8L1285.2,130.5L1284.2,130.3L1283.2,131.5L1282.2,132.3L1281.2,131.2L1280.2,130.6L1279.2,130.6L1278.2,130.6L1277.2,131.4L1276.2,131.8L1275.2,133.6L1274.2,132.8L1273.2,133.9L1272.2,132.3L1271.2,132.2L1270.2,131.2L1269.2,131.3L1268.2,131.2L1267.2,131.6L1266.2,132.4L1265.1,131L1264.1,130.6L1263.1,131L1262.1,131.4L1261.1,131.3L1260.1,131.1L1259.1,131.2L1258.1,130.4L1257.1,131.3L1256.1,131.3L1255.1,131.7L1254.1,133.2L1253.1,131.3L1252.1,130.3L1251.1,130.9L1250.1,131L1249.1,130.5L1248.1,131.8L1247.1,131.5L1246.1,132.2L1245.1,131.3L1244.1,131.4L1243.1,131.6L1242.1,131.8L1241.1,132.9L1240.1,133.1L1239.1,132.9L1238.1,133.1L1237.1,132.2L1236.1,132L1235.1,132.4L1234.1,134.3L1233.1,133.5L1232.1,133.3L1231.1,132.9L1230.1,133.6L1229.1,132.9L1228.1,133.2L1227.1,133.6L1226.1,135.3L1225.1,134L1224.1,133.1L1223.1,133.8L1222.1,133.6L1221.1,133.3L1220.1,133.7L1219.1,133.8L1218.1,134.2L1217.1,135L1216.1,135.5L1215.1,135.7L1214.1,135.6L1213.1,136L1212.1,136.8L1211.1,137.6L1210.1,138.3L1209.1,139.5L1208.1,140.8L1207.1,142.1L1206.1,143.6L1205.1,144.6L1204.1,147.3L1203.1,148.7L1202.1,150.6L1201.1,152.9L1200.1,155.3L1199.1,155.9L1198.1,156.2L1197.1,156.9L1196.1,156.9L1195.1,157.5L1194.1,157.6L1193.1,157.5L1192.1,148.8L1191.1,117.4L1190.1,86L1189.1,82.6L1188.1,129.6L1187.1,130.4L1186.1,131.8L1185.1,131.3L1184.1,132.1L1183.1,132.3L1182.1,132.1L1181.1,132.5L1180.1,132L1179.1,132.7L1178.1,133.1L1177.1,132.2L1176.1,132.3L1175.1,130.8L1174.1,132L1173.1,133.5L1172.1,132L1171.1,133L1170.1,132.2L1169.1,131.9L1168.1,132.9L1167.1,133.5L1166.1,132.9L1165.1,131.8L1164.1,132.1L1163.1,132.4L1162.1,132.3L1161.1,132.1L1160.1,132.6L1159.1,133.6L1158.1,134.1L1157.1,133.5L1156.1,133.4L1155.1,132.1L1154.1,132.2L1153.1,132.6L1152.1,132.1L1151.1,132.2L1150.1,133L1149.1,134.6L1148.1,133.3L1147.1,134L1146.1,132.8L1145.1,133.3L1144.1,133.2L1143.1,132.4L1142.1,132.2L1141.1,131L1140.1,131.7L1139.1,132.1L1138.1,131.4L1137.1,131.5L1136.1,132.6L1135.1,131.3L1134.1,133.2L1133.1,133L1132.1,133.3L1131.1,133.6L1130.1,132.1L1129.1,132.1L1128.1,132.1L1127.1,132.4L1126.1,132L1125.1,132.9L1124.1,131.7L1123.1,131.9L1122.1,132.8L1121.1,133.7L1120.1,134.6L1119.1,134.2L1118.1,132.7L1117.1,132.5L1116.1,132.2L1115.1,133.6L1114.1,133.9L1113.1,133.3L1112.1,133L1111.1,133.7L1110.1,133.3L1109.1,132.7L1108.1,132.2L1107.1,132.3L1106.1,132.5L1105.1,132.3L1104.1,132.1L1103.1,132L1102.1,131.6L1101.1,131.6L1100.1,131.4L1099.1,131.2L1098.1,131.8L1097.1,131.7L1096.1,131.3L1095.1,131L1094.1,132L1093.1,132.5L1092.1,132.5L1091.1,132.5L1090.1,132.1L1089.1,132.9L1088.1,134.4L1087.1,135.8L1086.1,135.1L1085.1,134L1084.1,133.1L1083.1,134.1L1082.1,133.6L1081.1,133.1L1080.1,133.1L1079.1,133.9L1078.1,136.6L1077.1,133.2L1076.1,133.3L1075.1,133.4L1074.1,133.1L1073.1,134.2L1072.1,133.3L1071.1,132.7L1070.1,132.9L1069.1,132.2L1068.1,131.4L1067.1,131.8L1066.1,131.7L1065.1,133L1064.1,133.2L1063.1,132.4L1062.1,133.3L1061.1,132.2L1060.1,130.9L1059.1,131.1L1058.1,131.1L1057.1,132L1056.1,131.5L1055.1,132.9L1054.1,132.9L1053.1,134.2L1052.1,134L1051.1,133.6L1050.1,132.3L1049.1,133.4L1048.1,134L1047.1,132.7L1046.1,131.9L1045.1,131.1L1044.1,132.3L1043.1,132L1042.1,133.4L1041.1,133.5L1040.1,132L1039.1,132.3L1038.1,132.4L1037.1,132.5L1036.1,132.2L1035.1,132.8L1034.1,132.4L1033.1,132.2L1032.1,132.3L1031.1,131.6L1030.1,130.9L1029.1,131L1028.1,130.8L1027.1,130.5L1026.1,130.7L1025.1,130.3L1024,131.5L1023,133.3L1022,131.9L1021,131.8L1020,131.5L1019,131.5L1018,131.6L1017,131.5L1016,131.5L1015,132.8L1014,133.7L1013,133.9L1012,132.5L1011,132L1010,132.3L1009,132.9L1008,133L1007,133.2L1006,132.5L1005,132.2L1004,132.2L1003,133.1L1002,135.1L1001,135.2L1000,133.9L999,133.4L998,133.2L997,133.3L996,132.7L995,133.2L994,132.4L993,132.9L992,132.7L991,131.5L990,131.5L989,132.4L988,132.4L987,132.3L986,131.7L985,131.7L984,132.5L983,133.4L982,132.6L981,132.8L980,133.1L979,133.2L978,133.4L977,132.8L976,134.1L975,135.7L974,135.4L973,134.8L972,133.6L971,132.3L970,132L969,132.6L968,134.7L967,133.3L966,132.1L965,131.8L964,132.7L963,132.8L962,132.6L961,132.9L960,131.7L959,132L958,132.9L957,132.7L956,133.4L955,133.3L954,131.9L953,130.6L952,131L951,131L950,131.6L949,131.5L948,131.4L947,130.9L946,131.3L945,131.7L944,132.1L943,131.9L942,131.9L941,132.5L940,133.1L939,133.6L938,132.1L937,131.8L936,131.4L935,132.9L934,133.3L933,133L932,134L931,131.9L930,133.4L929,133.4L928,131.6L927,132.1L926,133.6L925,134L924,134.1L923,133.8L922,133.2L921,132.3L920,133.4L919,133.7L918,132.2L917,131.5L916,131L915,131L914,132.1L913,131L912,131.5L911,131.9L910,132.9L909,132.4L908,133.1L907,133.2L906,132.3L905,132.1L904,133.9Z" fill="#1f77b4" stroke="#1f77b4" stroke-width="0.5" stroke-linejoin="round" clip-path="url(#cg)"/>
<rect x="911.5" y="134.3" width="268.7" height="26.9" rx="3" ry="3" fill="#fff" fill-opacity="0.92" stroke="#ccc" stroke-opacity="0.85" stroke-width="1.7"/>
<line x1="916.2" y1="146.7" x2="950.5" y2="146.7" stroke="#1f77b4" stroke-width="2.8" />
<text x="962.1" y="152.1" font-size="15.6" text-anchor="start" letter-spacing="-0.08">PRL response, input: A only</text>
<rect x="904" y="7" width="723.3" height="162" fill="none" stroke="#000" stroke-width="2.3"/>
<path d="M1538.51,7 H1627.3 V169 H1538.51" fill="none" stroke="#000" stroke-width="2.6"/>
<line x1="897.25" y1="169" x2="904" y2="169" stroke="#000" stroke-width="2.3" />
<text x="890.3" y="176.6" font-size="19.25" text-anchor="end" >0</text>
<line x1="897.25" y1="122.71" x2="904" y2="122.71" stroke="#000" stroke-width="2.3" />
<text x="890.3" y="130.31" font-size="19.25" text-anchor="end" >20</text>
<line x1="897.25" y1="76.43" x2="904" y2="76.43" stroke="#000" stroke-width="2.3" />
<text x="890.3" y="84.03" font-size="19.25" text-anchor="end" >40</text>
<line x1="897.25" y1="30.14" x2="904" y2="30.14" stroke="#000" stroke-width="2.3" />
<text x="890.3" y="37.74" font-size="19.25" text-anchor="end" >60</text>
<line x1="904" y1="169" x2="904" y2="175.75" stroke="#000" stroke-width="2.3" />
<line x1="994.41" y1="169" x2="994.41" y2="175.75" stroke="#000" stroke-width="2.3" />
<line x1="1084.83" y1="169" x2="1084.83" y2="175.75" stroke="#000" stroke-width="2.3" />
<line x1="1175.24" y1="169" x2="1175.24" y2="175.75" stroke="#000" stroke-width="2.3" />
<line x1="1265.65" y1="169" x2="1265.65" y2="175.75" stroke="#000" stroke-width="2.3" />
<line x1="1356.06" y1="169" x2="1356.06" y2="175.75" stroke="#000" stroke-width="2.3" />
<line x1="1446.47" y1="169" x2="1446.47" y2="175.75" stroke="#000" stroke-width="2.3" />
<line x1="1536.89" y1="169" x2="1536.89" y2="175.75" stroke="#000" stroke-width="2.3" />
<line x1="1627.3" y1="169" x2="1627.3" y2="175.75" stroke="#000" stroke-width="2.3" />
<text x="832" y="87.6" font-size="19.25" text-anchor="middle" transform="rotate(-90 832 87.6)" >PD voltage</text>
<text x="854" y="87.6" font-size="19.25" text-anchor="middle" transform="rotate(-90 854 87.6)" >[mV]</text>
<text x="911.6" y="37.3" font-size="37.2" text-anchor="start" class="lb">(g)</text>
<text x="994.3" y="31.1" font-size="25.25" text-anchor="start" >A=✘</text>
<text x="1182.8" y="31.1" font-size="25.25" text-anchor="start" >A=☑</text>
<text x="1367.2" y="31.1" font-size="25.25" text-anchor="start" >A=✘</text>
<text x="1555.2" y="31.6" font-size="25.25" text-anchor="start" stroke="#000" stroke-width="1.0" stroke-linejoin="round">A=☑</text>
<clipPath id="ch"><rect x="904" y="187.3" width="723.3" height="162"/></clipPath>
<rect x="975.06" y="187.3" width="92.76" height="162" fill="#e8e8e8" />
<rect x="1162.94" y="187.3" width="92.94" height="162" fill="#e8e8e8" />
<rect x="1351.18" y="187.3" width="91.68" height="162" fill="#f9e4fd" />
<rect x="1538.51" y="187.3" width="88.79" height="162" fill="#f9e4fd" />
<path d="M904,299.8L905,300.7L906,299.9L907,299.8L908,299.6L909,299.3L910,299.2L911,299L912,298.8L913,299.6L914,300.1L915,299.3L916,299.6L917,297.8L918,299.3L919,299.4L920,299.5L921,299.3L922,299.9L923,299.7L924,298.1L925,299.2L926,300.8L927,297.7L928,299.7L929,299.1L930,300.1L931,299.9L932,299.1L933,299.8L934,299.9L935,299.5L936,298.9L937,299.5L938,299.5L939,297.9L940,296.8L941,298.9L942,297.7L943,298.7L944,298.2L945,299.5L946,299.5L947,299.6L948,298.8L949,298.7L950,298.5L951,298.6L952,298.7L953,298.3L954,298.7L955,299.1L956,299.7L957,300.1L958,300.1L959,299.7L960,298.9L961,299.4L962,298.3L963,298.2L964,299.3L965,299.8L966,300.3L967,301.4L968,300.7L969,300.4L970,301.4L971,300.7L972,300.9L973,300.9L974,301.7L975,301.2L976,300.5L977,300.6L978,299.1L979,301.4L980,300.6L981,300.4L982,300.2L983,299.8L984,299.1L985,299.7L986,298L987,298.3L988,300L989,300.2L990,301L991,300.4L992,299.2L993,299.6L994,300.7L995,300.9L996,300.3L997,301L998,301.5L999,300.7L1000,301.1L1001,300.8L1002,301.2L1003,301.6L1004,300.7L1005,299.5L1006,300.3L1007,298.7L1008,299.2L1009,299.3L1010,299.6L1011,300.3L1012,299.5L1013,299.3L1014,298.9L1015,299.1L1016,299.3L1017,297.4L1018,297.6L1019,298.5L1020,298.4L1021,299.2L1022,298.8L1023,296.5L1024,297.8L1025.1,298.1L1026.1,299.1L1027.1,297.9L1028.1,298L1029.1,298.8L1030.1,299.3L1031.1,298.4L1032.1,298.2L1033.1,298L1034.1,298L1035.1,299.4L1036.1,300.3L1037.1,300.8L1038.1,299.7L1039.1,300.1L1040.1,300.7L1041.1,300.5L1042.1,300L1043.1,299.6L1044.1,300.5L1045.1,299.5L1046.1,300L1047.1,299.8L1048.1,299.8L1049.1,300.2L1050.1,299.8L1051.1,299.4L1052.1,298.5L1053.1,297.4L1054.1,296.7L1055.1,297.4L1056.1,298.1L1057.1,299.3L1058.1,300.3L1059.1,299.7L1060.1,299.8L1061.1,299.7L1062.1,299.9L1063.1,299.4L1064.1,299.7L1065.1,297.8L1066.1,297.8L1067.1,299.3L1068.1,299.6L1069.1,298.7L1070.1,300.1L1071.1,300.1L1072.1,300.5L1073.1,300.3L1074.1,300.6L1075.1,300.5L1076.1,299.5L1077.1,299.8L1078.1,301.1L1079.1,300.7L1080.1,300.6L1081.1,300.9L1082.1,300.9L1083.1,297.6L1084.1,299.9L1085.1,300.8L1086.1,300.3L1087.1,298.1L1088.1,299.5L1089.1,299.6L1090.1,298.6L1091.1,299.7L1092.1,300L1093.1,299.1L1094.1,297.8L1095.1,298.3L1096.1,298.1L1097.1,298.4L1098.1,299L1099.1,297.8L1100.1,298.5L1101.1,297.7L1102.1,300L1103.1,299.6L1104.1,299.7L1105.1,300.1L1106.1,300.2L1107.1,299.4L1108.1,299.4L1109.1,299.7L1110.1,299.9L1111.1,300L1112.1,299.7L1113.1,300.8L1114.1,301.2L1115.1,300.8L1116.1,300.9L1117.1,300.4L1118.1,300.4L1119.1,300L1120.1,300.1L1121.1,299.6L1122.1,299.8L1123.1,299.3L1124.1,299.8L1125.1,300.7L1126.1,300.3L1127.1,299.8L1128.1,299.8L1129.1,298.9L1130.1,298.6L1131.1,297.7L1132.1,298.8L1133.1,299.5L1134.1,299.2L1135.1,297.9L1136.1,299L1137.1,299L1138.1,299.2L1139.1,299.4L1140.1,298.7L1141.1,298.2L1142.1,298.2L1143.1,299.5L1144.1,299.7L1145.1,300.6L1146.1,299.9L1147.1,297.5L1148.1,300.3L1149.1,299.5L1150.1,299.8L1151.1,299.8L1152.1,300.4L1153.1,298.2L1154.1,299.9L1155.1,300.5L1156.1,300.4L1157.1,297.9L1158.1,299.1L1159.1,299.5L1160.1,299.1L1161.1,300.5L1162.1,299.6L1163.1,299L1164.1,297.6L1165.1,297L1166.1,297.6L1167.1,296.3L1168.1,298.7L1169.1,299.5L1170.1,299.3L1171.1,298.8L1172.1,298.8L1173.1,298.3L1174.1,297.8L1175.1,296.7L1176.1,297.6L1177.1,298.6L1178.1,298.4L1179.1,298.2L1180.1,297.9L1181.1,296.2L1182.1,298.4L1183.1,298.2L1184.1,297.4L1185.1,297L1186.1,299.2L1187.1,299.6L1188.1,297.7L1189.1,298.5L1190.1,298.6L1191.1,299.1L1192.1,298.2L1193.1,297.6L1194.1,299.3L1195.1,299.4L1196.1,298.2L1197.1,298.3L1198.1,300L1199.1,300.9L1200.1,299.8L1201.1,300.2L1202.1,299.7L1203.1,299.8L1204.1,299.4L1205.1,299.7L1206.1,300.7L1207.1,299.4L1208.1,299L1209.1,299.2L1210.1,298.1L1211.1,298L1212.1,297.8L1213.1,298.9L1214.1,299.3L1215.1,299.2L1216.1,299.8L1217.1,299.3L1218.1,299.2L1219.1,299.8L1220.1,300.3L1221.1,299.7L1222.1,300.1L1223.1,300L1224.1,300.1L1225.1,300.5L1226.1,302.4L1227.1,301.6L1228.1,300.6L1229.1,300.9L1230.1,301.4L1231.1,300.6L1232.1,301.3L1233.1,300.2L1234.1,299.8L1235.1,299L1236.1,299.8L1237.1,300.1L1238.1,300L1239.1,300.9L1240.1,301L1241.1,299.8L1242.1,300L1243.1,300.4L1244.1,299.9L1245.1,298.5L1246.1,298.7L1247.1,299.5L1248.1,299.6L1249.1,299.1L1250.1,300.1L1251.1,299.7L1252.1,299.1L1253.1,298.3L1254.1,297.9L1255.1,298.1L1256.1,297.2L1257.1,298.3L1258.1,299.1L1259.1,295.1L1260.1,298.6L1261.1,299.6L1262.1,300L1263.1,299.8L1264.1,300.4L1265.1,299.4L1266.2,299L1267.2,298.1L1268.2,299.6L1269.2,299.8L1270.2,299.9L1271.2,299.2L1272.2,298.7L1273.2,298.2L1274.2,298L1275.2,299.2L1276.2,299L1277.2,298.7L1278.2,298.6L1279.2,298.2L1280.2,299.4L1281.2,299.5L1282.2,299.1L1283.2,299.1L1284.2,299.4L1285.2,298.5L1286.2,297.6L1287.2,296.6L1288.2,298.4L1289.2,299.8L1290.2,299.2L1291.2,299L1292.2,299.2L1293.2,299.1L1294.2,299.1L1295.2,300.1L1296.2,299.8L1297.2,298.5L1298.2,299.8L1299.2,300.4L1300.2,300.9L1301.2,300.1L1302.2,299.2L1303.2,299.7L1304.2,300.7L1305.2,300.2L1306.2,300L1307.2,299.9L1308.2,300.3L1309.2,301L1310.2,300.8L1311.2,299.4L1312.2,299.9L1313.2,300L1314.2,300L1315.2,299.1L1316.2,299.1L1317.2,299.7L1318.2,298.3L1319.2,298.6L1320.2,298.9L1321.2,299.8L1322.2,300.5L1323.2,299.9L1324.2,299.8L1325.2,299.4L1326.2,300.6L1327.2,299.3L1328.2,299.2L1329.2,295.4L1330.2,300L1331.2,300L1332.2,299.8L1333.2,298.9L1334.2,298.8L1335.2,300.7L1336.2,300.5L1337.2,300.2L1338.2,300.3L1339.2,300.2L1340.2,299.7L1341.2,299.2L1342.2,300.4L1343.2,300.8L1344.2,300.5L1345.2,299.7L1346.2,300.3L1347.2,300.1L1348.2,300.6L1349.2,300.1L1350.2,299.9L1351.2,299.3L1352.2,298.2L1353.2,299.4L1354.2,299.2L1355.2,300.1L1356.2,299.6L1357.2,298L1358.2,299.5L1359.2,299.8L1360.2,301.2L1361.2,300.1L1362.2,297.9L1363.2,299L1364.2,299.2L1365.2,298.3L1366.2,299.4L1367.2,271.6L1368.2,221.4L1369.2,222.2L1370.2,222.1L1371.2,226.4L1372.2,238.1L1373.2,250.3L1374.2,273.2L1375.2,303.8L1376.2,328.4L1377.2,328.6L1378.2,328.8L1379.2,327L1380.2,324.7L1381.2,321.6L1382.2,319.4L1383.2,317.2L1384.2,316.5L1385.2,315.5L1386.2,314.2L1387.2,312.4L1388.2,311.3L1389.2,309.9L1390.2,308.3L1391.2,307.7L1392.2,306.6L1393.2,306.9L1394.2,306.3L1395.2,305.5L1396.2,304.6L1397.2,304.3L1398.2,303.7L1399.2,302.4L1400.2,301.4L1401.2,301.2L1402.2,301.8L1403.2,300.6L1404.2,300.1L1405.2,300.9L1406.2,300.2L1407.2,300.3L1408.2,299.7L1409.2,299.4L1410.2,299L1411.2,298L1412.2,296.5L1413.2,297.4L1414.2,298.4L1415.2,298.9L1416.2,298.5L1417.2,298.1L1418.2,299.2L1419.2,298.8L1420.2,296.8L1421.2,296.6L1422.2,296.6L1423.2,297.5L1424.2,296.1L1425.2,296.4L1426.2,297.4L1427.2,298.2L1428.2,297.7L1429.2,296.1L1430.2,297.2L1431.2,298.1L1432.2,298.2L1433.2,298.1L1434.2,298.2L1435.2,298.3L1436.2,298.5L1437.2,298.5L1438.2,297.7L1439.2,298.1L1440.2,298L1441.2,298.4L1442.2,298.5L1443.2,298L1444.2,296.8L1445.2,298.8L1446.2,298.9L1447.2,299.3L1448.2,297.7L1449.2,299.2L1450.2,299L1451.2,299.1L1452.2,299.5L1453.2,297.1L1454.2,298.9L1455.2,299.6L1456.2,299.9L1457.2,299.4L1458.2,297.3L1459.2,298L1460.2,298.4L1461.2,299.1L1462.2,299.5L1463.2,298.4L1464.2,299.4L1465.2,300L1466.2,296.8L1467.2,299.5L1468.2,300.2L1469.2,299.7L1470.2,298.7L1471.2,297.5L1472.2,296.6L1473.2,299.8L1474.2,300.1L1475.2,300.1L1476.2,299.5L1477.2,300.1L1478.2,300L1479.2,299.7L1480.2,299.6L1481.2,300.3L1482.2,300.2L1483.2,300.6L1484.2,300.9L1485.2,300.7L1486.2,299.9L1487.2,301.1L1488.2,300.9L1489.2,299.6L1490.2,299.5L1491.2,300.3L1492.2,300.2L1493.2,298.8L1494.2,299.3L1495.2,300.2L1496.2,299.6L1497.2,299.7L1498.2,300L1499.2,299.2L1500.2,299.6L1501.2,298.9L1502.2,296.7L1503.2,298.3L1504.2,297.6L1505.2,299.4L1506.2,300L1507.3,299.9L1508.3,299.2L1509.3,299.9L1510.3,299.2L1511.3,299.2L1512.3,299.2L1513.3,299L1514.3,298.9L1515.3,299.5L1516.3,299.4L1517.3,299.7L1518.3,298.5L1519.3,299L1520.3,299.2L1521.3,299.6L1522.3,299.5L1523.3,299.2L1524.3,299.4L1525.3,300L1526.3,299.1L1527.3,299.2L1528.3,300.4L1529.3,301.3L1530.3,301L1531.3,300.7L1532.3,300.8L1533.3,299.9L1534.3,299.7L1535.3,298.3L1536.3,298.4L1537.3,298.6L1538.3,298L1539.3,296.7L1540.3,296.9L1541.3,297.6L1542.3,298.7L1543.3,299.5L1544.3,299.2L1545.3,298L1546.3,298.1L1547.3,299.1L1548.3,298.8L1549.3,299L1550.3,299.4L1551.3,300.4L1552.3,299.7L1553.3,280.2L1554.3,224.6L1555.3,221.2L1556.3,220.8L1557.3,224.9L1558.3,235.9L1559.3,247.4L1560.3,267.7L1561.3,298.6L1562.3,328.7L1563.3,328.7L1564.3,328.3L1565.3,326.8L1566.3,324.5L1567.3,321.9L1568.3,320.4L1569.3,318.5L1570.3,316.1L1571.3,315.3L1572.3,313.8L1573.3,312.7L1574.3,311.9L1575.3,310.3L1576.3,309L1577.3,307.3L1578.3,307.3L1579.3,306.2L1580.3,304.6L1581.3,304.9L1582.3,304.1L1583.3,303.1L1584.3,302.5L1585.3,301.5L1586.3,298.4L1587.3,301.1L1588.3,301.9L1589.3,301.5L1590.3,300L1591.3,300.2L1592.3,299.7L1593.3,300.1L1594.3,299.3L1595.3,299.4L1596.3,298.6L1597.3,297.7L1598.3,299L1599.3,300.2L1600.3,300L1601.3,299.7L1602.3,299.3L1603.3,298.5L1604.3,299.2L1605.3,298.4L1606.3,299.4L1607.3,298.3L1608.3,299L1609.3,298.1L1610.3,296.9L1611.3,298L1612.3,297.5L1613.3,297.7L1614.3,298.3L1615.3,297L1616.3,296.7L1617.3,298L1618.3,298.2L1619.3,299L1620.3,299.6L1621.3,298.7L1622.3,298.5L1623.3,297.1L1624.3,297.8L1625.3,298.2L1626.3,298.8L1627.3,298.9L1627.3,314L1626.3,313.3L1625.3,312.7L1624.3,312L1623.3,311.9L1622.3,312.9L1621.3,313.3L1620.3,314L1619.3,312.3L1618.3,312.2L1617.3,312.8L1616.3,313.3L1615.3,313.2L1614.3,313.4L1613.3,312.8L1612.3,313.4L1611.3,314.3L1610.3,314.9L1609.3,313.2L1608.3,313.7L1607.3,312.6L1606.3,312.7L1605.3,312.5L1604.3,312.7L1603.3,313.5L1602.3,313.7L1601.3,314.4L1600.3,315.3L1599.3,313.6L1598.3,314.7L1597.3,315.1L1596.3,315.8L1595.3,313.5L1594.3,312.9L1593.3,312.9L1592.3,313.9L1591.3,313.1L1590.3,312.8L1589.3,313.8L1588.3,313.9L1587.3,313.8L1586.3,314.4L1585.3,314.4L1584.3,315L1583.3,315.9L1582.3,316.5L1581.3,316.6L1580.3,317.3L1579.3,317.9L1578.3,318.4L1577.3,318.9L1576.3,320.5L1575.3,322.2L1574.3,323.1L1573.3,325.3L1572.3,326.2L1571.3,328.1L1570.3,330.2L1569.3,332.2L1568.3,335.2L1567.3,337.9L1566.3,338.3L1565.3,339L1564.3,338.5L1563.3,338.1L1562.3,338.6L1561.3,338.3L1560.3,337.9L1559.3,327L1558.3,295.7L1557.3,264.7L1556.3,268.4L1555.3,310.5L1554.3,311.6L1553.3,313.6L1552.3,314.2L1551.3,313.3L1550.3,312.6L1549.3,311.9L1548.3,312.2L1547.3,313L1546.3,313L1545.3,313.1L1544.3,313L1543.3,312.7L1542.3,312L1541.3,311.9L1540.3,312.3L1539.3,312.9L1538.3,313.8L1537.3,312.7L1536.3,312.1L1535.3,312.3L1534.3,313.5L1533.3,314.1L1532.3,312.9L1531.3,311.7L1530.3,312L1529.3,313.1L1528.3,314.6L1527.3,313.7L1526.3,314L1525.3,313.9L1524.3,312.7L1523.3,312.5L1522.3,313.5L1521.3,315.6L1520.3,313.4L1519.3,312.8L1518.3,313.7L1517.3,313.6L1516.3,313.2L1515.3,312.2L1514.3,311.9L1513.3,311.9L1512.3,313.3L1511.3,314L1510.3,313.6L1509.3,312.1L1508.3,312.1L1507.3,312.7L1506.2,312.3L1505.2,311.9L1504.2,313.6L1503.2,314.4L1502.2,315.1L1501.2,314.4L1500.2,314.3L1499.2,313.2L1498.2,312.6L1497.2,312.6L1496.2,312.8L1495.2,314.4L1494.2,315.8L1493.2,314.5L1492.2,313.9L1491.2,314.8L1490.2,314.6L1489.2,314.9L1488.2,314.7L1487.2,313.8L1486.2,313.6L1485.2,314.1L1484.2,313.4L1483.2,312.6L1482.2,313.5L1481.2,312.8L1480.2,312.6L1479.2,313L1478.2,313.8L1477.2,314.6L1476.2,313.2L1475.2,312.9L1474.2,313.4L1473.2,313L1472.2,312.7L1471.2,313.5L1470.2,313.2L1469.2,313.9L1468.2,313.2L1467.2,312.8L1466.2,313.6L1465.2,313.8L1464.2,313.1L1463.2,313.6L1462.2,312.9L1461.2,312.6L1460.2,312.9L1459.2,312.2L1458.2,313L1457.2,314.2L1456.2,314.9L1455.2,315L1454.2,314.8L1453.2,315.4L1452.2,314.9L1451.2,314.9L1450.2,314.3L1449.2,312.6L1448.2,311.6L1447.2,311.5L1446.2,312.9L1445.2,313L1444.2,312.5L1443.2,312.2L1442.2,312.6L1441.2,312.8L1440.2,312.6L1439.2,311.6L1438.2,312.5L1437.2,312.4L1436.2,311.1L1435.2,310.3L1434.2,310.2L1433.2,311.8L1432.2,313.7L1431.2,313L1430.2,312.7L1429.2,311.7L1428.2,311.3L1427.2,311.4L1426.2,311.3L1425.2,310.9L1424.2,312.4L1423.2,311.4L1422.2,311.2L1421.2,312.9L1420.2,312L1419.2,311.7L1418.2,311.6L1417.2,311.8L1416.2,311.7L1415.2,312.3L1414.2,313.9L1413.2,315L1412.2,312L1411.2,313.3L1410.2,313L1409.2,312.1L1408.2,312.8L1407.2,313.7L1406.2,313.4L1405.2,313.4L1404.2,313.7L1403.2,313.9L1402.2,313.8L1401.2,313.8L1400.2,314.2L1399.2,314.2L1398.2,314.4L1397.2,314.9L1396.2,315.8L1395.2,316.2L1394.2,318L1393.2,319.6L1392.2,319.6L1391.2,320.2L1390.2,320.9L1389.2,322.6L1388.2,323.9L1387.2,325.3L1386.2,326.5L1385.2,328L1384.2,330.8L1383.2,332.1L1382.2,333.9L1381.2,337.4L1380.2,337.5L1379.2,338.5L1378.2,338.6L1377.2,338.7L1376.2,339L1375.2,337.9L1374.2,338.7L1373.2,332.9L1372.2,301.8L1371.2,270.1L1370.2,260.1L1369.2,310.7L1368.2,312.1L1367.2,313.9L1366.2,313.9L1365.2,313.5L1364.2,312.9L1363.2,312.2L1362.2,312.8L1361.2,312L1360.2,312.9L1359.2,312.7L1358.2,312.3L1357.2,312L1356.2,312L1355.2,312.8L1354.2,314.1L1353.2,313.2L1352.2,312.9L1351.2,312.9L1350.2,313.6L1349.2,313L1348.2,312.9L1347.2,314.3L1346.2,313.5L1345.2,313L1344.2,313.1L1343.2,313.4L1342.2,313.2L1341.2,313.7L1340.2,313.5L1339.2,312.7L1338.2,313.5L1337.2,314L1336.2,314.4L1335.2,313.9L1334.2,314.1L1333.2,313.5L1332.2,315.8L1331.2,315.2L1330.2,315.2L1329.2,314.8L1328.2,314.4L1327.2,315.6L1326.2,313.7L1325.2,312.9L1324.2,312.7L1323.2,313.8L1322.2,312.7L1321.2,313.1L1320.2,313.4L1319.2,313.8L1318.2,314.1L1317.2,314.4L1316.2,314.3L1315.2,313.7L1314.2,313.3L1313.2,314.1L1312.2,313.7L1311.2,313.2L1310.2,313.7L1309.2,315.2L1308.2,315.7L1307.2,314.7L1306.2,313.3L1305.2,313.9L1304.2,313.7L1303.2,314.3L1302.2,314.1L1301.2,313.5L1300.2,312.2L1299.2,312.1L1298.2,313.2L1297.2,313.9L1296.2,313L1295.2,313.9L1294.2,312.9L1293.2,313.1L1292.2,312.4L1291.2,312.4L1290.2,312L1289.2,312.2L1288.2,311.9L1287.2,312.7L1286.2,312.2L1285.2,314.9L1284.2,312.3L1283.2,312.1L1282.2,312.1L1281.2,312.9L1280.2,312.9L1279.2,312.1L1278.2,312.1L1277.2,312.6L1276.2,312.7L1275.2,311.7L1274.2,312.4L1273.2,312.5L1272.2,313L1271.2,312.6L1270.2,312.4L1269.2,312.3L1268.2,312.8L1267.2,314.5L1266.2,312.7L1265.1,314L1264.1,312.5L1263.1,313L1262.1,313.4L1261.1,313.4L1260.1,312.6L1259.1,311.9L1258.1,312.7L1257.1,313.5L1256.1,312.3L1255.1,312.9L1254.1,312.9L1253.1,313L1252.1,312.8L1251.1,312.7L1250.1,312.4L1249.1,312.8L1248.1,312.6L1247.1,313.6L1246.1,313.3L1245.1,313.4L1244.1,313.6L1243.1,314L1242.1,314.3L1241.1,314.9L1240.1,314.9L1239.1,314L1238.1,314.1L1237.1,315.2L1236.1,314.7L1235.1,314.4L1234.1,313.7L1233.1,314L1232.1,314.7L1231.1,314.2L1230.1,314L1229.1,313.2L1228.1,314.1L1227.1,314.7L1226.1,314.8L1225.1,315.5L1224.1,315.7L1223.1,314L1222.1,313.7L1221.1,313.9L1220.1,315.3L1219.1,315.3L1218.1,314L1217.1,313.3L1216.1,312.1L1215.1,311.8L1214.1,312.1L1213.1,312.3L1212.1,313.1L1211.1,313.3L1210.1,312.8L1209.1,312.8L1208.1,312.3L1207.1,312.8L1206.1,313.6L1205.1,313.1L1204.1,313.4L1203.1,315.4L1202.1,314.6L1201.1,313.5L1200.1,313.8L1199.1,314.5L1198.1,314.1L1197.1,312.5L1196.1,313L1195.1,314.4L1194.1,315L1193.1,315.2L1192.1,313.9L1191.1,312.5L1190.1,312.6L1189.1,312.3L1188.1,312.7L1187.1,313.8L1186.1,313L1185.1,312.4L1184.1,312.4L1183.1,312.3L1182.1,313.1L1181.1,312.2L1180.1,312L1179.1,312.2L1178.1,312.9L1177.1,312.5L1176.1,313L1175.1,313.5L1174.1,315.2L1173.1,313.8L1172.1,313.8L1171.1,312.5L1170.1,314.2L1169.1,312.7L1168.1,312.4L1167.1,312.2L1166.1,312.1L1165.1,313.6L1164.1,312.9L1163.1,312.7L1162.1,313.2L1161.1,313L1160.1,313.4L1159.1,314.3L1158.1,314.5L1157.1,314.7L1156.1,314.7L1155.1,313.3L1154.1,312.6L1153.1,312.9L1152.1,313.8L1151.1,313.5L1150.1,312.1L1149.1,313.7L1148.1,314.3L1147.1,314.4L1146.1,314.5L1145.1,312.8L1144.1,312.9L1143.1,312.5L1142.1,313.1L1141.1,314.1L1140.1,313.1L1139.1,313.2L1138.1,313.6L1137.1,312.5L1136.1,312.6L1135.1,312.4L1134.1,313.1L1133.1,312.5L1132.1,313L1131.1,312.7L1130.1,313.3L1129.1,312.5L1128.1,313.1L1127.1,313.7L1126.1,315.2L1125.1,315.7L1124.1,314.3L1123.1,313.3L1122.1,314.1L1121.1,313L1120.1,312.7L1119.1,313.6L1118.1,313.2L1117.1,314L1116.1,314.2L1115.1,314.8L1114.1,314L1113.1,313.2L1112.1,313.2L1111.1,315.1L1110.1,315.3L1109.1,314.6L1108.1,313.5L1107.1,312.8L1106.1,314L1105.1,314.1L1104.1,313.4L1103.1,312.9L1102.1,312.8L1101.1,312.8L1100.1,313.4L1099.1,312.8L1098.1,313L1097.1,313.1L1096.1,313.2L1095.1,312.7L1094.1,313L1093.1,313.3L1092.1,315.3L1091.1,312.7L1090.1,312.6L1089.1,312.8L1088.1,314L1087.1,313.8L1086.1,313.9L1085.1,315.8L1084.1,315.3L1083.1,316.4L1082.1,314.8L1081.1,314.2L1080.1,314L1079.1,313.9L1078.1,313.1L1077.1,314L1076.1,314.1L1075.1,313.2L1074.1,313.2L1073.1,313.5L1072.1,314.8L1071.1,314.3L1070.1,314.3L1069.1,312.9L1068.1,312.8L1067.1,312.7L1066.1,311.9L1065.1,313.3L1064.1,313.6L1063.1,312.5L1062.1,312.5L1061.1,312.7L1060.1,312.4L1059.1,312.7L1058.1,312.6L1057.1,311.9L1056.1,312.4L1055.1,312.2L1054.1,312.8L1053.1,313.2L1052.1,313L1051.1,312.9L1050.1,314.3L1049.1,313.5L1048.1,313.2L1047.1,313.5L1046.1,314.2L1045.1,314.4L1044.1,313.7L1043.1,313L1042.1,313.5L1041.1,312.9L1040.1,312.8L1039.1,314L1038.1,313.5L1037.1,313.3L1036.1,314.5L1035.1,314.3L1034.1,314.5L1033.1,313.2L1032.1,313L1031.1,313.9L1030.1,313.3L1029.1,312.2L1028.1,311.4L1027.1,311.1L1026.1,311.3L1025.1,312.5L1024,314.1L1023,312.3L1022,312.3L1021,312.5L1020,312.9L1019,313L1018,313.4L1017,313.1L1016,312.8L1015,312.1L1014,312.6L1013,313.1L1012,312.9L1011,314L1010,313.7L1009,314.8L1008,314L1007,315L1006,314.7L1005,314.5L1004,313.6L1003,313.5L1002,313.3L1001,312.9L1000,313.7L999,313.6L998,313.2L997,313.7L996,313.8L995,314.5L994,313.7L993,313.2L992,314.2L991,314.7L990,314.6L989,313.7L988,313.7L987,313.4L986,313.1L985,313.8L984,314.8L983,314.2L982,314.5L981,314.4L980,315.1L979,313.8L978,313.4L977,314.1L976,316L975,315.7L974,313.6L973,313.8L972,314L971,313.7L970,314.4L969,313.8L968,313.5L967,313.1L966,314L965,312.9L964,313L963,313.2L962,313.4L961,312.7L960,312.8L959,314L958,313.1L957,312.5L956,312.8L955,312.3L954,312.5L953,312.9L952,313.1L951,312.3L950,312.2L949,312.3L948,311.8L947,312.4L946,312.2L945,312.6L944,313.6L943,313.8L942,313.6L941,312.6L940,313.1L939,313L938,312.7L937,313.4L936,312.9L935,312.8L934,312.9L933,313.3L932,314.7L931,315.7L930,315.4L929,313.3L928,313.8L927,313.3L926,313.9L925,313.9L924,313.1L923,312.8L922,313.1L921,314.1L920,312.4L919,312L918,313.1L917,313.3L916,314L915,313.4L914,312.5L913,315.6L912,313.9L911,312.8L910,312.7L909,312.2L908,311.7L907,311.7L906,312.3L905,313.2L904,313.4Z" fill="#1f77b4" stroke="#1f77b4" stroke-width="0.5" stroke-linejoin="round" clip-path="url(#ch)"/>
<rect x="911.5" y="314.7" width="268.5" height="27.3" rx="3" ry="3" fill="#fff" fill-opacity="0.92" stroke="#ccc" stroke-opacity="0.85" stroke-width="1.7"/>
<line x1="916.2" y1="327.1" x2="950.5" y2="327.1" stroke="#1f77b4" stroke-width="3.5" />
<text x="961.5" y="332.5" font-size="15.6" text-anchor="start" letter-spacing="-0.08" stroke="#000" stroke-width="0.75" stroke-linejoin="round">PRL response, input: B only</text>
<rect x="904" y="187.3" width="723.3" height="162" fill="none" stroke="#000" stroke-width="2.3"/>
<path d="M1538.51,187.3 H1627.3 V349.3 H1538.51" fill="none" stroke="#000" stroke-width="2.6"/>
<line x1="897.25" y1="349.3" x2="904" y2="349.3" stroke="#000" stroke-width="2.3" />
<text x="890.3" y="356.9" font-size="19.25" text-anchor="end" >0</text>
<line x1="897.25" y1="303.01" x2="904" y2="303.01" stroke="#000" stroke-width="2.3" />
<text x="890.3" y="310.61" font-size="19.25" text-anchor="end" >20</text>
<line x1="897.25" y1="256.73" x2="904" y2="256.73" stroke="#000" stroke-width="2.3" />
<text x="890.3" y="264.33" font-size="19.25" text-anchor="end" >40</text>
<line x1="897.25" y1="210.44" x2="904" y2="210.44" stroke="#000" stroke-width="2.3" />
<text x="890.3" y="218.04" font-size="19.25" text-anchor="end" >60</text>
<line x1="904" y1="349.3" x2="904" y2="356.05" stroke="#000" stroke-width="2.3" />
<line x1="994.41" y1="349.3" x2="994.41" y2="356.05" stroke="#000" stroke-width="2.3" />
<line x1="1084.83" y1="349.3" x2="1084.83" y2="356.05" stroke="#000" stroke-width="2.3" />
<line x1="1175.24" y1="349.3" x2="1175.24" y2="356.05" stroke="#000" stroke-width="2.3" />
<line x1="1265.65" y1="349.3" x2="1265.65" y2="356.05" stroke="#000" stroke-width="2.3" />
<line x1="1356.06" y1="349.3" x2="1356.06" y2="356.05" stroke="#000" stroke-width="2.3" />
<line x1="1446.47" y1="349.3" x2="1446.47" y2="356.05" stroke="#000" stroke-width="2.3" />
<line x1="1536.89" y1="349.3" x2="1536.89" y2="356.05" stroke="#000" stroke-width="2.3" />
<line x1="1627.3" y1="349.3" x2="1627.3" y2="356.05" stroke="#000" stroke-width="2.3" />
<text x="832" y="268" font-size="19.25" text-anchor="middle" transform="rotate(-90 832 268)" >PD voltage</text>
<text x="854" y="268" font-size="19.25" text-anchor="middle" transform="rotate(-90 854 268)" >[mV]</text>
<text x="913" y="224.5" font-size="37.2" text-anchor="start" class="lb">(h)</text>
<text x="993.9" y="211.4" font-size="25.25" text-anchor="start" >B=✘</text>
<text x="1182.4" y="211.4" font-size="25.25" text-anchor="start" >B=✘</text>
<text x="1366.8" y="211.4" font-size="25.25" text-anchor="start" >B=☑</text>
<text x="1554.8" y="211.9" font-size="25.25" text-anchor="start" stroke="#000" stroke-width="1.0" stroke-linejoin="round">B=☑</text>
<clipPath id="ci"><rect x="904" y="367" width="723.3" height="90"/></clipPath>
<rect x="975.06" y="367" width="92.76" height="90" fill="#e8e8e8" />
<rect x="1162.94" y="367" width="92.94" height="90" fill="#f3faf7" />
<rect x="1351.18" y="367" width="91.68" height="90" fill="#f3faf7" />
<rect x="1538.51" y="367" width="88.79" height="90" fill="#e8e8e8" />
<path d="M904,407.1L905,406.9L906,407.8L907,407.6L908,407.1L909,407.4L910,407.1L911,407.5L912,407.7L913,407.7L914,407.4L915,407.5L916,407.7L917,407.7L918,407.3L919,408L920,407.6L921,406.9L922,407.6L923,407.7L924,407.6L925,407.5L926,406.9L927,407.2L928,407.8L929,408L930,407.8L931,408L932,408.1L933,408.2L934,407.5L935,407.4L936,408.2L937,408.1L938,408.8L939,408.6L940,408.2L941,408L942,408L943,408.1L944,408.5L945,408.6L946,408.6L947,408.9L948,408.8L949,408.9L950,408.5L951,407.6L952,407.1L953,406.8L954,407.9L955,408.5L956,408.4L957,408.6L958,408.4L959,408.6L960,408.4L961,408.5L962,407.6L963,407.3L964,407.6L965,408.5L966,408.1L967,408.3L968,408.7L969,408.6L970,408L971,408.6L972,408.3L973,408.4L974,408.5L975,408.3L976,408.5L977,408.7L978,408.3L979,409.1L980,408.7L981,409L982,408.5L983,409L984,408.5L985,409.3L986,408.6L987,408.7L988,409L989,409.4L990,409L991,409.2L992,409.2L993,409.4L994,409.9L995,409.3L996,409.5L997,409.6L998,409.7L999,409.9L1000,409.3L1001,409.5L1002,410L1003,410.2L1004,410.3L1005,410.6L1006,410.1L1007,410.5L1008,409.9L1009,410.1L1010,409.9L1011,410.1L1012,410.4L1013,409.4L1014,409.8L1015,410.4L1016,410.2L1017,409.5L1018,410.2L1019,410.3L1020,409.5L1021,409.4L1022,409.4L1023,409.9L1024,409.9L1025.1,409.7L1026.1,409.8L1027.1,409.8L1028.1,409.7L1029.1,409.9L1030.1,409.6L1031.1,409.7L1032.1,410.1L1033.1,409.5L1034.1,409.5L1035.1,409.8L1036.1,410L1037.1,409.4L1038.1,409.6L1039.1,409.7L1040.1,410.2L1041.1,410.2L1042.1,410.3L1043.1,410.4L1044.1,410.5L1045.1,410.4L1046.1,410.6L1047.1,410L1048.1,409.8L1049.1,410.3L1050.1,410.2L1051.1,410.4L1052.1,410.2L1053.1,410L1054.1,410.6L1055.1,411.1L1056.1,410.6L1057.1,410.1L1058.1,410L1059.1,410.3L1060.1,410.4L1061.1,411L1062.1,410.3L1063.1,410.7L1064.1,410.4L1065.1,410.3L1066.1,410.1L1067.1,410.4L1068.1,410.5L1069.1,410.3L1070.1,410.4L1071.1,410.3L1072.1,410.6L1073.1,410.3L1074.1,410.1L1075.1,410.1L1076.1,410L1077.1,410.4L1078.1,410.5L1079.1,410.5L1080.1,409.9L1081.1,410.3L1082.1,410.3L1083.1,410L1084.1,410L1085.1,409.9L1086.1,410.5L1087.1,410.2L1088.1,410.3L1089.1,410.2L1090.1,410.1L1091.1,410.8L1092.1,410.4L1093.1,410.5L1094.1,410L1095.1,410.3L1096.1,410.3L1097.1,410.7L1098.1,410.8L1099.1,410.3L1100.1,410.4L1101.1,410.2L1102.1,410.2L1103.1,410.4L1104.1,410.4L1105.1,410.2L1106.1,409.9L1107.1,410L1108.1,410.2L1109.1,409.6L1110.1,409.1L1111.1,409.4L1112.1,410L1113.1,409.9L1114.1,409.9L1115.1,409.4L1116.1,409.5L1117.1,409.9L1118.1,410L1119.1,410.1L1120.1,410L1121.1,410.2L1122.1,410L1123.1,409.6L1124.1,409.5L1125.1,410L1126.1,409.9L1127.1,410L1128.1,410.4L1129.1,410.3L1130.1,409.9L1131.1,409.9L1132.1,410.2L1133.1,410.4L1134.1,410.4L1135.1,410.2L1136.1,410.2L1137.1,409.9L1138.1,409.9L1139.1,409.8L1140.1,410.4L1141.1,410.4L1142.1,410.5L1143.1,410.4L1144.1,410.4L1145.1,409.6L1146.1,410.5L1147.1,410.5L1148.1,410.7L1149.1,410.5L1150.1,410.3L1151.1,409.8L1152.1,410.1L1153.1,410.5L1154.1,410.3L1155.1,410.2L1156.1,410.7L1157.1,409.9L1158.1,410.2L1159.1,409.6L1160.1,409.3L1161.1,409L1162.1,409.5L1163.1,410L1164.1,410.2L1165.1,409.6L1166.1,409.8L1167.1,409.6L1168.1,409.8L1169.1,409.9L1170.1,409.5L1171.1,409.8L1172.1,409.9L1173.1,409.9L1174.1,409.7L1175.1,409.8L1176.1,410L1177.1,410L1178.1,409.9L1179.1,409.1L1180.1,409.1L1181.1,409.5L1182.1,409.7L1183.1,409.9L1184.1,409.3L1185.1,392.6L1186.1,393.1L1187.1,391.6L1188.1,392.4L1189.1,393L1190.1,410.4L1191.1,410.1L1192.1,410.2L1193.1,410.3L1194.1,410L1195.1,409.4L1196.1,409.6L1197.1,410.2L1198.1,410.1L1199.1,410.2L1200.1,410.1L1201.1,409.9L1202.1,409.5L1203.1,410L1204.1,409.9L1205.1,409.2L1206.1,410.3L1207.1,409.9L1208.1,410.1L1209.1,410L1210.1,410.2L1211.1,410.4L1212.1,410L1213.1,410.6L1214.1,410.3L1215.1,408.6L1216.1,409.2L1217.1,409.9L1218.1,410.2L1219.1,409.6L1220.1,409.3L1221.1,409.6L1222.1,410L1223.1,410.1L1224.1,410.6L1225.1,410.5L1226.1,409.5L1227.1,408.9L1228.1,409.6L1229.1,409.6L1230.1,409.6L1231.1,410L1232.1,410.3L1233.1,410.3L1234.1,410.1L1235.1,409.5L1236.1,409.6L1237.1,409.8L1238.1,410L1239.1,409.5L1240.1,409L1241.1,409.3L1242.1,409.8L1243.1,409.8L1244.1,409.5L1245.1,409.2L1246.1,409.1L1247.1,409.7L1248.1,409.8L1249.1,409.8L1250.1,409.5L1251.1,409.8L1252.1,409.6L1253.1,409.8L1254.1,409.7L1255.1,409.7L1256.1,409.6L1257.1,409.7L1258.1,409.6L1259.1,409.8L1260.1,409.9L1261.1,409.5L1262.1,409.5L1263.1,409.1L1264.1,409.1L1265.1,409.5L1266.2,409.7L1267.2,409.9L1268.2,409.7L1269.2,409.4L1270.2,409.5L1271.2,409.5L1272.2,409.8L1273.2,409.4L1274.2,409.3L1275.2,409.2L1276.2,409.9L1277.2,410L1278.2,410.2L1279.2,409.5L1280.2,409.8L1281.2,408.7L1282.2,409.4L1283.2,410L1284.2,409.7L1285.2,409.2L1286.2,409.7L1287.2,409.9L1288.2,410.2L1289.2,410.4L1290.2,410.4L1291.2,410.7L1292.2,410.5L1293.2,410.5L1294.2,410.1L1295.2,409.8L1296.2,409.4L1297.2,409.4L1298.2,409.7L1299.2,409.2L1300.2,409.6L1301.2,410.1L1302.2,410.2L1303.2,409.9L1304.2,409.4L1305.2,408.9L1306.2,409.4L1307.2,409L1308.2,409L1309.2,408.8L1310.2,409.3L1311.2,409.3L1312.2,409.8L1313.2,409.5L1314.2,409.3L1315.2,409L1316.2,408.6L1317.2,409.2L1318.2,408.9L1319.2,408.6L1320.2,408.4L1321.2,408.5L1322.2,409.1L1323.2,409.6L1324.2,409.5L1325.2,408.7L1326.2,408.7L1327.2,409.6L1328.2,409.7L1329.2,409.2L1330.2,409.4L1331.2,409.5L1332.2,409.8L1333.2,409L1334.2,408.5L1335.2,408.3L1336.2,409.5L1337.2,409.8L1338.2,409.5L1339.2,409.5L1340.2,409.6L1341.2,409.7L1342.2,409.3L1343.2,409.1L1344.2,408.8L1345.2,408.9L1346.2,409.5L1347.2,409.7L1348.2,409.7L1349.2,409.5L1350.2,409.6L1351.2,409.7L1352.2,409.6L1353.2,409.6L1354.2,409.5L1355.2,408.8L1356.2,408.5L1357.2,409.1L1358.2,409.3L1359.2,409.4L1360.2,409.5L1361.2,409.3L1362.2,409.7L1363.2,409.5L1364.2,409.4L1365.2,409.6L1366.2,409.4L1367.2,408.9L1368.2,408.9L1369.2,409L1370.2,409.4L1371.2,409.3L1372.2,392.1L1373.2,392.7L1374.2,392L1375.2,392.8L1376.2,392.6L1377.2,409.3L1378.2,409.2L1379.2,409.2L1380.2,409.2L1381.2,408.8L1382.2,409L1383.2,409L1384.2,408.6L1385.2,408.8L1386.2,409.4L1387.2,409.4L1388.2,409.2L1389.2,409.2L1390.2,408.8L1391.2,408.7L1392.2,408.8L1393.2,408.9L1394.2,409.1L1395.2,408.9L1396.2,408.1L1397.2,408.7L1398.2,408L1399.2,408.2L1400.2,408.4L1401.2,408.5L1402.2,408.7L1403.2,408.4L1404.2,408.4L1405.2,408.5L1406.2,408.4L1407.2,407.8L1408.2,408.2L1409.2,408.3L1410.2,407.9L1411.2,408.4L1412.2,408.1L1413.2,407.3L1414.2,407.7L1415.2,408.6L1416.2,408.3L1417.2,408.4L1418.2,407.9L1419.2,407.9L1420.2,408.1L1421.2,408.6L1422.2,408.2L1423.2,408.1L1424.2,408.1L1425.2,408.1L1426.2,408.1L1427.2,408.2L1428.2,408.4L1429.2,408.8L1430.2,408.7L1431.2,408.6L1432.2,408L1433.2,407.6L1434.2,408.2L1435.2,408.3L1436.2,408.3L1437.2,408L1438.2,407.8L1439.2,407.6L1440.2,407.9L1441.2,407.9L1442.2,407L1443.2,407.6L1444.2,407L1445.2,406.9L1446.2,406.7L1447.2,406.9L1448.2,407.1L1449.2,406.8L1450.2,406.9L1451.2,407L1452.2,407L1453.2,406.8L1454.2,406.8L1455.2,406.8L1456.2,406.6L1457.2,406.5L1458.2,406.9L1459.2,406.8L1460.2,406.2L1461.2,406.1L1462.2,405.8L1463.2,406.7L1464.2,406.7L1465.2,407.1L1466.2,406.7L1467.2,406.8L1468.2,406.7L1469.2,406.5L1470.2,406.7L1471.2,406.9L1472.2,406.9L1473.2,406.5L1474.2,406L1475.2,406.6L1476.2,406.9L1477.2,406.8L1478.2,406.9L1479.2,407.1L1480.2,406.7L1481.2,406.7L1482.2,406L1483.2,406.5L1484.2,406L1485.2,405.7L1486.2,406.1L1487.2,406.2L1488.2,406.9L1489.2,406.5L1490.2,406.2L1491.2,406.3L1492.2,405.7L1493.2,406.4L1494.2,406L1495.2,405.8L1496.2,405.6L1497.2,406L1498.2,405.7L1499.2,405.7L1500.2,405.5L1501.2,405.1L1502.2,405.5L1503.2,406.1L1504.2,405.7L1505.2,405.3L1506.2,405.2L1507.3,405.4L1508.3,405.5L1509.3,405.3L1510.3,405L1511.3,405.2L1512.3,403.9L1513.3,404.7L1514.3,404.9L1515.3,405.1L1516.3,405.2L1517.3,404.9L1518.3,404.8L1519.3,404.5L1520.3,404.5L1521.3,404.9L1522.3,404.9L1523.3,404.9L1524.3,404.9L1525.3,404.9L1526.3,405.1L1527.3,405.2L1528.3,405.1L1529.3,405.5L1530.3,405.2L1531.3,404.9L1532.3,405.7L1533.3,405.5L1534.3,405.6L1535.3,405.6L1536.3,405.3L1537.3,405.5L1538.3,405.4L1539.3,405.5L1540.3,405.7L1541.3,405L1542.3,405.3L1543.3,405.7L1544.3,405.7L1545.3,404.8L1546.3,405.5L1547.3,405.1L1548.3,405.5L1549.3,405.4L1550.3,405.4L1551.3,405L1552.3,405.1L1553.3,404.8L1554.3,400.1L1555.3,400.6L1556.3,400.5L1557.3,400.1L1558.3,400L1559.3,400L1560.3,400.3L1561.3,400L1562.3,405.1L1563.3,406L1564.3,406.2L1565.3,406.5L1566.3,406.4L1567.3,406.2L1568.3,406.3L1569.3,406.4L1570.3,406.1L1571.3,405.9L1572.3,405.6L1573.3,407L1574.3,407L1575.3,407L1576.3,406.8L1577.3,406.9L1578.3,407L1579.3,406.6L1580.3,406L1581.3,406.6L1582.3,406.4L1583.3,407L1584.3,406.7L1585.3,405.9L1586.3,405.7L1587.3,406.4L1588.3,406.8L1589.3,406.7L1590.3,406.1L1591.3,406L1592.3,406.2L1593.3,406.2L1594.3,406.7L1595.3,407.1L1596.3,407L1597.3,406.8L1598.3,406.5L1599.3,406.5L1600.3,405.2L1601.3,406L1602.3,406.6L1603.3,406.2L1604.3,406.4L1605.3,405.8L1606.3,405.6L1607.3,405.9L1608.3,406.2L1609.3,407.2L1610.3,406.8L1611.3,406.8L1612.3,406.7L1613.3,406.7L1614.3,407L1615.3,407.6L1616.3,407.7L1617.3,407.7L1618.3,407.5L1619.3,407.6L1620.3,407.7L1621.3,408L1622.3,408L1623.3,408.3L1624.3,408.2L1625.3,408.4L1626.3,408.2L1627.3,408.3L1627.3,414.1L1626.3,414L1625.3,414L1624.3,413.9L1623.3,414.1L1622.3,414.2L1621.3,414L1620.3,413.6L1619.3,413.9L1618.3,414.3L1617.3,414.5L1616.3,413.8L1615.3,414.4L1614.3,413.4L1613.3,413.2L1612.3,413.2L1611.3,413.2L1610.3,413.3L1609.3,414.2L1608.3,413.6L1607.3,413.3L1606.3,412.8L1605.3,412.4L1604.3,412.3L1603.3,412.3L1602.3,412.6L1601.3,413.4L1600.3,412.3L1599.3,412.5L1598.3,412.3L1597.3,412.7L1596.3,412L1595.3,412.1L1594.3,412.4L1593.3,412.9L1592.3,412.9L1591.3,413L1590.3,413.2L1589.3,412.4L1588.3,412.2L1587.3,412.1L1586.3,412.1L1585.3,412.3L1584.3,412.5L1583.3,412.6L1582.3,412.6L1581.3,412.4L1580.3,411.8L1579.3,412.8L1578.3,412.9L1577.3,412.1L1576.3,412.2L1575.3,412L1574.3,412.2L1573.3,412.4L1572.3,412.6L1571.3,412.1L1570.3,411.9L1569.3,412L1568.3,412.2L1567.3,412.2L1566.3,414.2L1565.3,414.7L1564.3,414.6L1563.3,413.8L1562.3,413.7L1561.3,411.6L1560.3,411.6L1559.3,422L1558.3,421.9L1557.3,421.5L1556.3,421.3L1555.3,411.1L1554.3,411.5L1553.3,411.6L1552.3,411.9L1551.3,411.9L1550.3,411.8L1549.3,411.4L1548.3,411.6L1547.3,411.9L1546.3,411.2L1545.3,410.9L1544.3,411.2L1543.3,410.8L1542.3,411.8L1541.3,411.9L1540.3,411.1L1539.3,411.5L1538.3,411.4L1537.3,411.3L1536.3,411.5L1535.3,411.3L1534.3,411.3L1533.3,411.1L1532.3,411.5L1531.3,411.5L1530.3,411.1L1529.3,411.2L1528.3,411.2L1527.3,411L1526.3,411.4L1525.3,411.5L1524.3,411.7L1523.3,412.1L1522.3,411.6L1521.3,410.9L1520.3,411.1L1519.3,411.2L1518.3,411.2L1517.3,410.6L1516.3,410.5L1515.3,411.3L1514.3,411.2L1513.3,411.9L1512.3,411.4L1511.3,411.3L1510.3,410.9L1509.3,410.9L1508.3,410.7L1507.3,410.6L1506.2,411L1505.2,410.8L1504.2,410.7L1503.2,411L1502.2,411.6L1501.2,411.7L1500.2,411.8L1499.2,411.5L1498.2,412L1497.2,411.6L1496.2,412.3L1495.2,412.7L1494.2,412.2L1493.2,412L1492.2,412L1491.2,412L1490.2,412.4L1489.2,412.1L1488.2,413.1L1487.2,412L1486.2,412.3L1485.2,412.8L1484.2,411.8L1483.2,412.2L1482.2,412.4L1481.2,412.8L1480.2,412.4L1479.2,412.2L1478.2,412.4L1477.2,412.6L1476.2,412.3L1475.2,412.2L1474.2,412.3L1473.2,412.6L1472.2,412.7L1471.2,412.3L1470.2,412.3L1469.2,412.4L1468.2,412.5L1467.2,412.8L1466.2,413L1465.2,413.4L1464.2,413.2L1463.2,412.7L1462.2,412.6L1461.2,412.6L1460.2,412.9L1459.2,412.5L1458.2,412.4L1457.2,412.9L1456.2,412.7L1455.2,413L1454.2,412.7L1453.2,413L1452.2,414.3L1451.2,413.4L1450.2,412.9L1449.2,413.7L1448.2,413.8L1447.2,413.5L1446.2,413.5L1445.2,414.2L1444.2,414.2L1443.2,414.8L1442.2,413.7L1441.2,414L1440.2,413.8L1439.2,413.9L1438.2,413.7L1437.2,413.7L1436.2,414.4L1435.2,415L1434.2,415.3L1433.2,414.4L1432.2,414.7L1431.2,414.9L1430.2,414.5L1429.2,413.9L1428.2,413.9L1427.2,414.4L1426.2,414.7L1425.2,414.8L1424.2,415.3L1423.2,415L1422.2,414.3L1421.2,413.9L1420.2,413.9L1419.2,414.5L1418.2,415.3L1417.2,415.6L1416.2,415.3L1415.2,414.7L1414.2,414.4L1413.2,415.1L1412.2,414.3L1411.2,413.8L1410.2,414.1L1409.2,414.2L1408.2,414.7L1407.2,414.2L1406.2,414.2L1405.2,414.5L1404.2,414.1L1403.2,414.7L1402.2,415.1L1401.2,415L1400.2,414.9L1399.2,414.3L1398.2,414.5L1397.2,414.2L1396.2,414.5L1395.2,415.1L1394.2,415.4L1393.2,415.7L1392.2,414.8L1391.2,414.7L1390.2,414.2L1389.2,414.4L1388.2,415.5L1387.2,414.7L1386.2,415.4L1385.2,415.3L1384.2,414.9L1383.2,414.9L1382.2,415.1L1381.2,415L1380.2,415L1379.2,414.8L1378.2,415L1377.2,416L1376.2,416.2L1375.2,415.9L1374.2,431L1373.2,430.6L1372.2,430.3L1371.2,430.5L1370.2,415.1L1369.2,415.6L1368.2,415.4L1367.2,415L1366.2,415.5L1365.2,415.5L1364.2,414.7L1363.2,415L1362.2,415.5L1361.2,415.8L1360.2,415L1359.2,415.3L1358.2,414.8L1357.2,415L1356.2,415.4L1355.2,415.2L1354.2,415.2L1353.2,415.3L1352.2,416.4L1351.2,416.8L1350.2,416.7L1349.2,415.4L1348.2,415.9L1347.2,415.5L1346.2,415.4L1345.2,416L1344.2,415.8L1343.2,415.9L1342.2,415.7L1341.2,416.2L1340.2,415.6L1339.2,415.4L1338.2,415.7L1337.2,415.8L1336.2,415.7L1335.2,415.3L1334.2,415.4L1333.2,416.6L1332.2,415.8L1331.2,415.3L1330.2,415.3L1329.2,415.8L1328.2,415.1L1327.2,415.5L1326.2,415.3L1325.2,415.9L1324.2,415.1L1323.2,415L1322.2,415.3L1321.2,415.5L1320.2,415L1319.2,415L1318.2,414.8L1317.2,414.4L1316.2,415L1315.2,415.5L1314.2,415.1L1313.2,415.2L1312.2,415.5L1311.2,415.4L1310.2,415L1309.2,414.8L1308.2,414.5L1307.2,415.3L1306.2,416.1L1305.2,415.9L1304.2,415.6L1303.2,415.3L1302.2,415.2L1301.2,415.4L1300.2,415.3L1299.2,415.8L1298.2,416L1297.2,415.6L1296.2,415.5L1295.2,415.8L1294.2,416L1293.2,416.3L1292.2,416.8L1291.2,416.6L1290.2,416.1L1289.2,416.1L1288.2,415.8L1287.2,416.6L1286.2,416.3L1285.2,416.3L1284.2,416.1L1283.2,416.3L1282.2,416.5L1281.2,416.9L1280.2,416.5L1279.2,416.1L1278.2,416.4L1277.2,416.2L1276.2,415.9L1275.2,416L1274.2,416.4L1273.2,415.4L1272.2,415.3L1271.2,415.5L1270.2,415.5L1269.2,415.3L1268.2,415.1L1267.2,415.5L1266.2,415.6L1265.1,416.4L1264.1,416.1L1263.1,415.5L1262.1,415.3L1261.1,415.3L1260.1,415.9L1259.1,415.3L1258.1,414.7L1257.1,415L1256.1,415.2L1255.1,415.4L1254.1,415.4L1253.1,416L1252.1,416.5L1251.1,416.5L1250.1,416.1L1249.1,415.8L1248.1,415.6L1247.1,415.7L1246.1,415.9L1245.1,415.8L1244.1,416L1243.1,416.2L1242.1,416.2L1241.1,416.2L1240.1,415.9L1239.1,415.7L1238.1,416.8L1237.1,416L1236.1,416L1235.1,415.7L1234.1,416.5L1233.1,416.4L1232.1,416.3L1231.1,416L1230.1,416.1L1229.1,415.8L1228.1,415.9L1227.1,416.5L1226.1,415.9L1225.1,416.1L1224.1,415.8L1223.1,415.8L1222.1,415.7L1221.1,416.3L1220.1,416.9L1219.1,415.9L1218.1,415.9L1217.1,415.7L1216.1,415.4L1215.1,415.5L1214.1,416L1213.1,415.8L1212.1,415.7L1211.1,415.5L1210.1,415.4L1209.1,415.8L1208.1,415.8L1207.1,415.4L1206.1,415.6L1205.1,415.2L1204.1,415.3L1203.1,416.1L1202.1,415.8L1201.1,415.9L1200.1,416.7L1199.1,416.8L1198.1,416.7L1197.1,415.7L1196.1,416.1L1195.1,416.7L1194.1,416.3L1193.1,416L1192.1,415.6L1191.1,415.7L1190.1,432.6L1189.1,432.4L1188.1,433L1187.1,432.9L1186.1,415.5L1185.1,415.7L1184.1,415.7L1183.1,415.3L1182.1,415.6L1181.1,416.3L1180.1,415.8L1179.1,416.1L1178.1,416.1L1177.1,416.5L1176.1,415.8L1175.1,416L1174.1,415.8L1173.1,415.8L1172.1,415.2L1171.1,415.6L1170.1,415.4L1169.1,415.6L1168.1,415.3L1167.1,415.4L1166.1,415.3L1165.1,415.9L1164.1,416.3L1163.1,415.5L1162.1,415.6L1161.1,415.5L1160.1,416.4L1159.1,416.6L1158.1,416.6L1157.1,416L1156.1,416.2L1155.1,416.2L1154.1,417.1L1153.1,416.5L1152.1,417L1151.1,416.9L1150.1,417.9L1149.1,417.2L1148.1,416.1L1147.1,416.7L1146.1,416.9L1145.1,416.8L1144.1,416.6L1143.1,416.7L1142.1,416.7L1141.1,416.4L1140.1,416.1L1139.1,416.1L1138.1,416.4L1137.1,416.4L1136.1,416.7L1135.1,416.6L1134.1,416.4L1133.1,416.5L1132.1,416L1131.1,415.9L1130.1,416L1129.1,416.3L1128.1,415.8L1127.1,415.7L1126.1,416.2L1125.1,416.5L1124.1,416.3L1123.1,416.1L1122.1,415.5L1121.1,415.5L1120.1,415.5L1119.1,415.3L1118.1,415.7L1117.1,416L1116.1,416.3L1115.1,415.8L1114.1,416L1113.1,415.9L1112.1,416L1111.1,415.6L1110.1,415.3L1109.1,416L1108.1,415.6L1107.1,415.7L1106.1,415.6L1105.1,415.8L1104.1,416.2L1103.1,416.7L1102.1,416.6L1101.1,416L1100.1,415.8L1099.1,416.3L1098.1,416.2L1097.1,416.1L1096.1,416.3L1095.1,416.9L1094.1,416.6L1093.1,416.3L1092.1,416.2L1091.1,416.6L1090.1,416.9L1089.1,416.3L1088.1,416.2L1087.1,416.1L1086.1,416.2L1085.1,416.6L1084.1,416.4L1083.1,416L1082.1,417L1081.1,416L1080.1,416L1079.1,416.3L1078.1,416.3L1077.1,416.4L1076.1,416.1L1075.1,415.9L1074.1,415.8L1073.1,415.7L1072.1,416.5L1071.1,416L1070.1,416.2L1069.1,416.7L1068.1,416.4L1067.1,416.4L1066.1,416L1065.1,416.3L1064.1,416L1063.1,415.8L1062.1,415.7L1061.1,416.9L1060.1,416.7L1059.1,417.1L1058.1,416.2L1057.1,415.9L1056.1,415.7L1055.1,416.2L1054.1,417.1L1053.1,417.3L1052.1,416.8L1051.1,417.1L1050.1,416.6L1049.1,416.3L1048.1,415.9L1047.1,416.5L1046.1,415.9L1045.1,415.9L1044.1,416.1L1043.1,416.2L1042.1,415.9L1041.1,416.1L1040.1,416.6L1039.1,416.5L1038.1,417.1L1037.1,415.8L1036.1,415.8L1035.1,415.4L1034.1,415.2L1033.1,415.6L1032.1,415.9L1031.1,416.3L1030.1,416.6L1029.1,415.8L1028.1,415.8L1027.1,415.6L1026.1,416L1025.1,416.3L1024,415.9L1023,415.9L1022,416.1L1021,416L1020,416.4L1019,416.3L1018,416L1017,416.1L1016,416.2L1015,416.1L1014,416L1013,415.8L1012,416.6L1011,417.4L1010,417.3L1009,416.7L1008,416.9L1007,416.1L1006,416.2L1005,416L1004,416.2L1003,415.9L1002,416.9L1001,416.2L1000,415.9L999,415.9L998,416.5L997,416.4L996,415.8L995,415.8L994,415.5L993,416L992,416.4L991,416.3L990,416L989,416.4L988,415.8L987,415.2L986,415L985,415.5L984,415.3L983,415.4L982,415.5L981,415.4L980,415.7L979,414.7L978,414.7L977,414.5L976,414.1L975,414.1L974,414.3L973,414.9L972,414.9L971,415.5L970,415.7L969,414.8L968,415.3L967,414.9L966,414.4L965,414.1L964,414.1L963,414.3L962,414.3L961,414.6L960,414L959,414.3L958,414.2L957,414.4L956,414.1L955,414L954,414.4L953,414.6L952,414.1L951,415.2L950,415L949,415.5L948,414.5L947,414.3L946,414.3L945,414.2L944,414L943,414.6L942,415.3L941,414.9L940,414.1L939,413.7L938,413.9L937,413.9L936,414.6L935,414.8L934,414.5L933,414.4L932,414.2L931,414.5L930,415.3L929,414.6L928,414.2L927,413.7L926,413.5L925,413.9L924,413.7L923,414L922,414.5L921,414L920,413.5L919,413.5L918,413.7L917,413.9L916,413.9L915,414.1L914,414.1L913,413.2L912,413.3L911,413.7L910,413.5L909,413.6L908,414L907,413.8L906,414L905,414L904,413.6Z" fill="#0db030" stroke="#0db030" stroke-width="0.5" stroke-linejoin="round" clip-path="url(#ci)"/>
<rect x="911.5" y="422" width="226.3" height="27" rx="3" ry="3" fill="#fff" fill-opacity="0.92" stroke="#ccc" stroke-opacity="0.85" stroke-width="1.7"/>
<line x1="916.2" y1="434.4" x2="950.5" y2="434.4" stroke="#0db030" stroke-width="2.8" />
<text x="962.1" y="439.8" font-size="15.6" text-anchor="start" letter-spacing="-0.08">PRL optical input A+B</text>
<rect x="904" y="367" width="723.3" height="90" fill="none" stroke="#000" stroke-width="2.3"/>
<line x1="897.25" y1="376.61" x2="904" y2="376.61" stroke="#000" stroke-width="2.3" />
<text x="890.3" y="384.21" font-size="19.25" text-anchor="end" >40</text>
<line x1="897.25" y1="411.56" x2="904" y2="411.56" stroke="#000" stroke-width="2.3" />
<text x="890.3" y="419.16" font-size="19.25" text-anchor="end" >0</text>
<line x1="897.25" y1="446.51" x2="904" y2="446.51" stroke="#000" stroke-width="2.3" />
<text x="890.3" y="454.11" font-size="19.25" text-anchor="end" >-40</text>
<line x1="904" y1="457" x2="904" y2="463.75" stroke="#000" stroke-width="2.3" />
<line x1="994.41" y1="457" x2="994.41" y2="463.75" stroke="#000" stroke-width="2.3" />
<line x1="1084.83" y1="457" x2="1084.83" y2="463.75" stroke="#000" stroke-width="2.3" />
<line x1="1175.24" y1="457" x2="1175.24" y2="463.75" stroke="#000" stroke-width="2.3" />
<line x1="1265.65" y1="457" x2="1265.65" y2="463.75" stroke="#000" stroke-width="2.3" />
<line x1="1356.06" y1="457" x2="1356.06" y2="463.75" stroke="#000" stroke-width="2.3" />
<line x1="1446.47" y1="457" x2="1446.47" y2="463.75" stroke="#000" stroke-width="2.3" />
<line x1="1536.89" y1="457" x2="1536.89" y2="463.75" stroke="#000" stroke-width="2.3" />
<line x1="1627.3" y1="457" x2="1627.3" y2="463.75" stroke="#000" stroke-width="2.3" />
<text x="825.4" y="412" font-size="19.25" text-anchor="middle" transform="rotate(-90 825.4 412)" >PD voltage</text>
<text x="846.8" y="412" font-size="19.25" text-anchor="middle" transform="rotate(-90 846.8 412)" >[mV]</text>
<text x="913" y="396.1" font-size="37.2" text-anchor="start" class="lb">(i)</text>
<text x="979.8" y="389.7" font-size="23.4" text-anchor="start" >A✘, B✘</text>
<text x="1168.1" y="389.7" font-size="23.4" text-anchor="start" >A☑, B✘</text>
<text x="1352.8" y="389.7" font-size="23.4" text-anchor="start" >A✘, B☑</text>
<text x="1541.1" y="389.7" font-size="23.4" text-anchor="start" >A☑, B☑</text>
<text x="1621.8" y="451.8" font-size="15.6" text-anchor="end" style="fill:#980a1c">cancel out</text>
<clipPath id="cj"><rect x="904" y="475" width="723.3" height="243"/></clipPath>
<rect x="975.06" y="475" width="92.76" height="243" fill="#e8e8e8" />
<rect x="1162.94" y="475" width="92.94" height="243" fill="#dcf0e6" />
<rect x="1351.18" y="475" width="91.68" height="243" fill="#dcf0e6" />
<rect x="1538.51" y="475" width="88.79" height="243" fill="#e8e8e8" />
<path d="M904,645.9L905,645.8L906,646.9L907,646.8L908,646.6L909,641.2L910,646.4L911,645.3L912,645.5L913,643.6L914,643.1L915,645L916,644.9L917,644.5L918,645.3L919,645.6L920,645.5L921,646.4L922,647.2L923,646.1L924,647.5L925,646.1L926,644.4L927,645.4L928,645.1L929,646.4L930,645.4L931,640.2L932,641.6L933,644.2L934,645.7L935,647.2L936,647.2L937,646.6L938,646.4L939,645.6L940,643.2L941,645.7L942,646.3L943,645.5L944,646.2L945,646.5L946,645.1L947,643.7L948,643.5L949,645.5L950,644.7L951,643.3L952,644.6L953,644.9L954,645.3L955,645.4L956,645.9L957,645.2L958,646.1L959,643.4L960,643.2L961,645.1L962,642.4L963,643.8L964,648.1L965,646.7L966,645.2L967,645.7L968,646.6L969,647.5L970,648.6L971,649.1L972,644.3L973,645.9L974,646.4L975,643.8L976,646L977,646.7L978,647.1L979,648.2L980,646.7L981,645.2L982,645.6L983,646.1L984,645.1L985,644.1L986,641.5L987,642.2L988,642.8L989,644.9L990,647.3L991,645.1L992,646L993,644.8L994,645.1L995,646.3L996,645.9L997,642.9L998,641.6L999,644.6L1000,646.1L1001,648.3L1002,648.5L1003,647.7L1004,646.5L1005,645.2L1006,645.8L1007,642.9L1008,645.7L1009,644.6L1010,645.9L1011,645.8L1012,645L1013,643.2L1014,644.6L1015,644.9L1016,644.7L1017,643.8L1018,641.1L1019,640.8L1020,642.7L1021,643.7L1022,641.2L1023,639.8L1024,639.6L1025.1,641.6L1026.1,643.9L1027.1,644.6L1028.1,643.8L1029.1,644.5L1030.1,644.1L1031.1,640.3L1032.1,640.7L1033.1,641L1034.1,644.1L1035.1,642.1L1036.1,641.1L1037.1,643.8L1038.1,643.9L1039.1,644L1040.1,645L1041.1,644.1L1042.1,640.8L1043.1,643.1L1044.1,643L1045.1,645.7L1046.1,645.2L1047.1,645.8L1048.1,643.1L1049.1,644.4L1050.1,643.7L1051.1,644.1L1052.1,645.8L1053.1,645.4L1054.1,644.9L1055.1,643.1L1056.1,643.9L1057.1,646.3L1058.1,646.7L1059.1,646L1060.1,644.1L1061.1,644.5L1062.1,642.9L1063.1,644.1L1064.1,643.7L1065.1,642.5L1066.1,643.1L1067.1,646.1L1068.1,644.4L1069.1,644.6L1070.1,643.3L1071.1,647.5L1072.1,646.8L1073.1,646L1074.1,645.9L1075.1,645.9L1076.1,646.8L1077.1,647.3L1078.1,646.1L1079.1,645.9L1080.1,644.5L1081.1,644.3L1082.1,645.9L1083.1,645.8L1084.1,645.9L1085.1,644.6L1086.1,641.8L1087.1,642.9L1088.1,644.8L1089.1,637.8L1090.1,642.8L1091.1,644.6L1092.1,645L1093.1,646.6L1094.1,643.5L1095.1,641L1096.1,640L1097.1,641L1098.1,642.7L1099.1,643.9L1100.1,644.5L1101.1,643L1102.1,641.3L1103.1,640.8L1104.1,643.7L1105.1,640.8L1106.1,643.1L1107.1,643.5L1108.1,643.7L1109.1,644.1L1110.1,646.4L1111.1,646.6L1112.1,645.8L1113.1,643.3L1114.1,643.9L1115.1,639.5L1116.1,645.3L1117.1,645.3L1118.1,643L1119.1,640L1120.1,641.2L1121.1,642L1122.1,643L1123.1,643.7L1124.1,643.7L1125.1,641.9L1126.1,643.6L1127.1,644.8L1128.1,643.6L1129.1,643.7L1130.1,642.8L1131.1,644L1132.1,643.3L1133.1,643.4L1134.1,643.6L1135.1,642.4L1136.1,643.2L1137.1,645.6L1138.1,645.8L1139.1,644.4L1140.1,640.8L1141.1,642L1142.1,644L1143.1,644.4L1144.1,642.3L1145.1,641.7L1146.1,641.6L1147.1,641.7L1148.1,640.1L1149.1,643.7L1150.1,642L1151.1,641.6L1152.1,643.9L1153.1,643.1L1154.1,640.8L1155.1,642.2L1156.1,641.4L1157.1,644.9L1158.1,645.9L1159.1,644L1160.1,642.8L1161.1,641.4L1162.1,641L1163.1,638.5L1164.1,643.2L1165.1,644.4L1166.1,642L1167.1,640.6L1168.1,640.8L1169.1,641.6L1170.1,638.8L1171.1,641L1172.1,640.7L1173.1,638.7L1174.1,640.6L1175.1,642L1176.1,642.2L1177.1,643.8L1178.1,641.5L1179.1,639.3L1180.1,636.9L1181.1,639.3L1182.1,640.1L1183.1,640L1184.1,638L1185.1,633.2L1186.1,610.3L1187.1,524.6L1188.1,516.8L1189.1,516.8L1190.1,520.4L1191.1,539.1L1192.1,559.7L1193.1,591.3L1194.1,640L1195.1,687L1196.1,686.8L1197.1,684.8L1198.1,684.1L1199.1,679.4L1200.1,677.1L1201.1,673.7L1202.1,670.7L1203.1,668.6L1204.1,667.3L1205.1,664.7L1206.1,662.8L1207.1,660.3L1208.1,658.2L1209.1,655.9L1210.1,654.5L1211.1,655.3L1212.1,655.1L1213.1,653.9L1214.1,652.2L1215.1,650.7L1216.1,650.5L1217.1,649.4L1218.1,649.6L1219.1,647.6L1220.1,647.9L1221.1,648L1222.1,647.9L1223.1,647.1L1224.1,644.4L1225.1,644.5L1226.1,643.6L1227.1,645.6L1228.1,644.4L1229.1,643.1L1230.1,641.8L1231.1,644.3L1232.1,645.2L1233.1,644.4L1234.1,642.3L1235.1,643.7L1236.1,643.2L1237.1,640.1L1238.1,643.6L1239.1,644.6L1240.1,643.6L1241.1,641.7L1242.1,641.3L1243.1,640.5L1244.1,638.4L1245.1,640.4L1246.1,642.1L1247.1,639.6L1248.1,642.1L1249.1,640.6L1250.1,638.3L1251.1,638.6L1252.1,640.9L1253.1,640.9L1254.1,641.6L1255.1,638L1256.1,638L1257.1,639.4L1258.1,638.4L1259.1,639.7L1260.1,638.7L1261.1,639.4L1262.1,641.8L1263.1,642.2L1264.1,643L1265.1,643.8L1266.2,642.5L1267.2,642.4L1268.2,642.1L1269.2,640.7L1270.2,639.2L1271.2,639.9L1272.2,641.6L1273.2,640.5L1274.2,641.8L1275.2,638.9L1276.2,640.4L1277.2,638.7L1278.2,641.4L1279.2,636.5L1280.2,639.4L1281.2,640.1L1282.2,638.8L1283.2,638.7L1284.2,639.5L1285.2,640.5L1286.2,639.9L1287.2,640L1288.2,641.6L1289.2,642.3L1290.2,642L1291.2,642.9L1292.2,644.3L1293.2,642.3L1294.2,642.4L1295.2,638.3L1296.2,639.6L1297.2,639.9L1298.2,640.3L1299.2,639.4L1300.2,643.1L1301.2,645L1302.2,645.5L1303.2,645.9L1304.2,646.1L1305.2,646.4L1306.2,644.7L1307.2,646L1308.2,642.7L1309.2,643.9L1310.2,642.9L1311.2,642.7L1312.2,642.1L1313.2,642.8L1314.2,643.3L1315.2,643L1316.2,641.3L1317.2,640.7L1318.2,641.4L1319.2,644.1L1320.2,644.6L1321.2,643.6L1322.2,640.9L1323.2,639L1324.2,641.7L1325.2,642.1L1326.2,643.3L1327.2,644.1L1328.2,643.5L1329.2,642.1L1330.2,641.9L1331.2,645.3L1332.2,643.5L1333.2,645.4L1334.2,643.2L1335.2,640.8L1336.2,636.4L1337.2,642.4L1338.2,644.6L1339.2,644.4L1340.2,643.1L1341.2,644.1L1342.2,642.2L1343.2,643.5L1344.2,643.7L1345.2,643.8L1346.2,642.3L1347.2,641.8L1348.2,644.6L1349.2,643.2L1350.2,639.9L1351.2,644.5L1352.2,644.6L1353.2,643.8L1354.2,642.2L1355.2,641.1L1356.2,643.8L1357.2,643.6L1358.2,641.4L1359.2,639.2L1360.2,640.9L1361.2,643.1L1362.2,642.2L1363.2,642.7L1364.2,644.3L1365.2,646.5L1366.2,644.4L1367.2,641.4L1368.2,638.4L1369.2,638.6L1370.2,640.6L1371.2,642.8L1372.2,620L1373.2,529.8L1374.2,516.3L1375.2,516.1L1376.2,520L1377.2,538.4L1378.2,557.2L1379.2,588.1L1380.2,638.5L1381.2,687.5L1382.2,688.2L1383.2,687.7L1384.2,685.4L1385.2,681L1386.2,678.1L1387.2,675.1L1388.2,671.7L1389.2,667.7L1390.2,663.1L1391.2,663.7L1392.2,661.7L1393.2,660.5L1394.2,659.2L1395.2,657.9L1396.2,656L1397.2,653.8L1398.2,653L1399.2,653.3L1400.2,651.8L1401.2,650.5L1402.2,649.7L1403.2,647.7L1404.2,648.2L1405.2,647.9L1406.2,647.1L1407.2,644.5L1408.2,646.2L1409.2,645.7L1410.2,647L1411.2,646.5L1412.2,645.5L1413.2,645.7L1414.2,644.1L1415.2,641.8L1416.2,643.7L1417.2,643.2L1418.2,643.4L1419.2,643.1L1420.2,642.8L1421.2,640L1422.2,642L1423.2,641.1L1424.2,639.3L1425.2,637.3L1426.2,639.6L1427.2,637L1428.2,640.5L1429.2,642.2L1430.2,641.1L1431.2,640.5L1432.2,637.9L1433.2,640.1L1434.2,640.5L1435.2,639.7L1436.2,642.6L1437.2,640.3L1438.2,640.1L1439.2,641.6L1440.2,642.3L1441.2,642.4L1442.2,639.8L1443.2,641.8L1444.2,639.9L1445.2,641.9L1446.2,641.5L1447.2,642.7L1448.2,642.8L1449.2,641.3L1450.2,642.1L1451.2,643.6L1452.2,642.3L1453.2,639.2L1454.2,641.4L1455.2,643.5L1456.2,644.5L1457.2,645.6L1458.2,645.6L1459.2,644.2L1460.2,644.4L1461.2,643.7L1462.2,643.3L1463.2,642.3L1464.2,640.4L1465.2,641.9L1466.2,644.7L1467.2,644.2L1468.2,642.8L1469.2,639.8L1470.2,639.7L1471.2,643.8L1472.2,644.9L1473.2,643.6L1474.2,643.6L1475.2,641.9L1476.2,640.4L1477.2,641.9L1478.2,642.3L1479.2,643.2L1480.2,642.6L1481.2,645.1L1482.2,645.7L1483.2,642.9L1484.2,645.1L1485.2,646L1486.2,644.9L1487.2,645.4L1488.2,645.5L1489.2,645.9L1490.2,643L1491.2,643.4L1492.2,641.1L1493.2,642.2L1494.2,645.2L1495.2,644.7L1496.2,645.9L1497.2,643.6L1498.2,645.5L1499.2,643.2L1500.2,641.8L1501.2,639.4L1502.2,640.3L1503.2,641.1L1504.2,642.6L1505.2,643.2L1506.2,643.5L1507.3,643.2L1508.3,642.8L1509.3,638.6L1510.3,637L1511.3,642.3L1512.3,640.7L1513.3,641L1514.3,642.6L1515.3,642.6L1516.3,643.2L1517.3,642.2L1518.3,642.7L1519.3,641.1L1520.3,643.5L1521.3,643.3L1522.3,644.6L1523.3,641.4L1524.3,643.7L1525.3,640.6L1526.3,642.4L1527.3,639.4L1528.3,643.9L1529.3,644.3L1530.3,642L1531.3,644.3L1532.3,643.5L1533.3,645.2L1534.3,641.4L1535.3,640.1L1536.3,644.1L1537.3,644.6L1538.3,642.5L1539.3,638.4L1540.3,640.5L1541.3,644.6L1542.3,642.8L1543.3,643.5L1544.3,643.3L1545.3,643.8L1546.3,641.9L1547.3,646.5L1548.3,643.3L1549.3,642.3L1550.3,642.6L1551.3,644L1552.3,643.5L1553.3,644.7L1554.3,642.6L1555.3,646.4L1556.3,646.7L1557.3,645.1L1558.3,646.1L1559.3,642.8L1560.3,643.5L1561.3,644.8L1562.3,645.3L1563.3,642.7L1564.3,641.4L1565.3,646L1566.3,642.8L1567.3,641.2L1568.3,642.5L1569.3,644.5L1570.3,640.9L1571.3,642.9L1572.3,640.6L1573.3,643.9L1574.3,645.8L1575.3,645L1576.3,644.5L1577.3,646.5L1578.3,645.2L1579.3,640.3L1580.3,641.2L1581.3,641.9L1582.3,643.1L1583.3,643.2L1584.3,642L1585.3,642.9L1586.3,643.1L1587.3,642.8L1588.3,642.4L1589.3,642.7L1590.3,645L1591.3,645.5L1592.3,645.9L1593.3,645.2L1594.3,642.3L1595.3,642.4L1596.3,644.3L1597.3,641.5L1598.3,641.4L1599.3,644.4L1600.3,644.5L1601.3,643L1602.3,642.2L1603.3,644.7L1604.3,644.9L1605.3,645.7L1606.3,646.7L1607.3,645.3L1608.3,646.9L1609.3,646.1L1610.3,643.9L1611.3,642.6L1612.3,643.6L1613.3,643.6L1614.3,643.7L1615.3,641.7L1616.3,641.9L1617.3,641.9L1618.3,644.2L1619.3,644.5L1620.3,644.9L1621.3,642.9L1622.3,641.7L1623.3,642.6L1624.3,642.2L1625.3,643L1626.3,644L1627.3,643.3L1627.3,661.1L1626.3,661L1625.3,659.6L1624.3,660L1623.3,660.2L1622.3,661.6L1621.3,659.9L1620.3,660.1L1619.3,660.2L1618.3,657.2L1617.3,658.2L1616.3,659.5L1615.3,660.9L1614.3,661.4L1613.3,663L1612.3,664.6L1611.3,660.5L1610.3,660.7L1609.3,662.2L1608.3,663.5L1607.3,666.7L1606.3,664.5L1605.3,660.2L1604.3,660.9L1603.3,664.7L1602.3,664.5L1601.3,662.1L1600.3,660.3L1599.3,658.9L1598.3,660.4L1597.3,662.2L1596.3,664.8L1595.3,663.1L1594.3,661L1593.3,662.5L1592.3,660L1591.3,658.9L1590.3,659.1L1589.3,661.9L1588.3,662.8L1587.3,662.9L1586.3,659.8L1585.3,658.5L1584.3,658.7L1583.3,659.9L1582.3,658.8L1581.3,659.1L1580.3,658.7L1579.3,660L1578.3,659.9L1577.3,660.1L1576.3,661.8L1575.3,662.2L1574.3,664.4L1573.3,663.2L1572.3,659.6L1571.3,660.1L1570.3,660.1L1569.3,661.4L1568.3,662.8L1567.3,661.7L1566.3,660.2L1565.3,659.1L1564.3,660.1L1563.3,657.2L1562.3,661.4L1561.3,666.1L1560.3,661.1L1559.3,660.8L1558.3,661.3L1557.3,663.1L1556.3,660.6L1555.3,661L1554.3,660.9L1553.3,661L1552.3,659.9L1551.3,657.8L1550.3,657.2L1549.3,659.8L1548.3,661.2L1547.3,659.2L1546.3,658.3L1545.3,663L1544.3,659L1543.3,661.1L1542.3,659.1L1541.3,659.6L1540.3,662.2L1539.3,664.5L1538.3,664.6L1537.3,662.6L1536.3,662.8L1535.3,660.6L1534.3,662.2L1533.3,662.6L1532.3,660L1531.3,659.5L1530.3,660.1L1529.3,660L1528.3,659.3L1527.3,661.3L1526.3,660.5L1525.3,661.1L1524.3,661.3L1523.3,658.5L1522.3,658.7L1521.3,660.1L1520.3,659.1L1519.3,658.9L1518.3,658.1L1517.3,657.1L1516.3,656.8L1515.3,658L1514.3,660L1513.3,660.2L1512.3,658.6L1511.3,658.2L1510.3,657L1509.3,658.4L1508.3,658.2L1507.3,658.6L1506.2,660.5L1505.2,659.1L1504.2,662.8L1503.2,662.3L1502.2,659.9L1501.2,660.1L1500.2,660.1L1499.2,661.8L1498.2,662.3L1497.2,663.2L1496.2,664.8L1495.2,661.6L1494.2,661L1493.2,658.2L1492.2,660.6L1491.2,663.4L1490.2,662.2L1489.2,660.1L1488.2,660L1487.2,661.8L1486.2,661.1L1485.2,659.6L1484.2,661.1L1483.2,662.2L1482.2,662.5L1481.2,660.6L1480.2,663.7L1479.2,665.2L1478.2,659.9L1477.2,658.6L1476.2,659.5L1475.2,660.7L1474.2,659.9L1473.2,660.1L1472.2,658.8L1471.2,659.3L1470.2,660.7L1469.2,660.1L1468.2,661.4L1467.2,661.7L1466.2,660.1L1465.2,658.7L1464.2,658.8L1463.2,658.4L1462.2,659.3L1461.2,660.7L1460.2,661.4L1459.2,660.2L1458.2,661.1L1457.2,661.4L1456.2,664.3L1455.2,664.8L1454.2,663.5L1453.2,661.4L1452.2,663.6L1451.2,662.5L1450.2,661L1449.2,662L1448.2,660L1447.2,658.3L1446.2,658.5L1445.2,658.2L1444.2,657.7L1443.2,657.3L1442.2,656.8L1441.2,657L1440.2,656.5L1439.2,657.7L1438.2,659.5L1437.2,658.8L1436.2,657.5L1435.2,657.3L1434.2,660.1L1433.2,657.9L1432.2,658.4L1431.2,658.4L1430.2,657.5L1429.2,655.9L1428.2,656.7L1427.2,659.5L1426.2,659.8L1425.2,657.9L1424.2,657L1423.2,657.8L1422.2,658.6L1421.2,658.5L1420.2,659.2L1419.2,658L1418.2,658.4L1417.2,658.7L1416.2,662.5L1415.2,660.3L1414.2,660.8L1413.2,661.3L1412.2,662.7L1411.2,661.7L1410.2,662L1409.2,659.3L1408.2,660.3L1407.2,660.6L1406.2,663.6L1405.2,659.5L1404.2,661.8L1403.2,663.4L1402.2,664.2L1401.2,667.2L1400.2,668.7L1399.2,668.4L1398.2,668.1L1397.2,669.9L1396.2,669.6L1395.2,671.6L1394.2,673.4L1393.2,675.6L1392.2,678.4L1391.2,679.9L1390.2,684.3L1389.2,688.1L1388.2,692.6L1387.2,695.9L1386.2,697.7L1385.2,698L1384.2,698.5L1383.2,698.3L1382.2,699L1381.2,699.5L1380.2,698.1L1379.2,698L1378.2,676.5L1377.2,628.9L1376.2,581.8L1375.2,600L1374.2,658.4L1373.2,660.3L1372.2,664.2L1371.2,664.1L1370.2,659.1L1369.2,658.8L1368.2,657.1L1367.2,660.5L1366.2,661.6L1365.2,662.3L1364.2,659L1363.2,659.3L1362.2,658.5L1361.2,659.2L1360.2,661.1L1359.2,664.3L1358.2,661.6L1357.2,659.5L1356.2,658.4L1355.2,658.6L1354.2,658.8L1353.2,660.6L1352.2,661.3L1351.2,660L1350.2,662.5L1349.2,658.8L1348.2,659.2L1347.2,659.9L1346.2,660.7L1345.2,659.9L1344.2,664L1343.2,662.1L1342.2,661.6L1341.2,663.1L1340.2,665.3L1339.2,661.1L1338.2,660.5L1337.2,659.5L1336.2,659.5L1335.2,660.9L1334.2,660.7L1333.2,659.1L1332.2,659.9L1331.2,659.9L1330.2,660L1329.2,658.7L1328.2,657.7L1327.2,661.4L1326.2,663.6L1325.2,666.6L1324.2,659.4L1323.2,658.7L1322.2,660.1L1321.2,660L1320.2,659.5L1319.2,659.2L1318.2,660.6L1317.2,660.8L1316.2,659.3L1315.2,659.5L1314.2,661.3L1313.2,662.6L1312.2,659.3L1311.2,660.7L1310.2,659.2L1309.2,658.5L1308.2,658.6L1307.2,661.2L1306.2,660.1L1305.2,659.5L1304.2,660.9L1303.2,661.6L1302.2,661.8L1301.2,660.2L1300.2,661.6L1299.2,661L1298.2,660L1297.2,661.2L1296.2,660.8L1295.2,658.7L1294.2,658.7L1293.2,659L1292.2,661.8L1291.2,661.2L1290.2,659.1L1289.2,658.8L1288.2,662.2L1287.2,663.6L1286.2,663.4L1285.2,662.6L1284.2,658.3L1283.2,656.4L1282.2,657L1281.2,657.6L1280.2,659.6L1279.2,657.1L1278.2,656.9L1277.2,658.2L1276.2,660.7L1275.2,657.4L1274.2,655.4L1273.2,654.3L1272.2,656.9L1271.2,658.8L1270.2,657.3L1269.2,655.4L1268.2,658.3L1267.2,658.1L1266.2,659.7L1265.1,660.9L1264.1,659L1263.1,658.7L1262.1,658.4L1261.1,659.6L1260.1,659.3L1259.1,655.6L1258.1,655.2L1257.1,658L1256.1,658.7L1255.1,661.5L1254.1,658.1L1253.1,656.9L1252.1,657.5L1251.1,656.9L1250.1,656.9L1249.1,657.4L1248.1,655.3L1247.1,656.2L1246.1,657.1L1245.1,656.8L1244.1,659.5L1243.1,662.3L1242.1,661.1L1241.1,660.8L1240.1,661.5L1239.1,661.1L1238.1,660.7L1237.1,662.2L1236.1,660.3L1235.1,661.2L1234.1,663L1233.1,661.1L1232.1,658.9L1231.1,659.9L1230.1,661.5L1229.1,663.6L1228.1,662.4L1227.1,662L1226.1,661.3L1225.1,660.4L1224.1,661.1L1223.1,664.7L1222.1,665.2L1221.1,664.2L1220.1,662.6L1219.1,663.4L1218.1,662.7L1217.1,664.2L1216.1,664.6L1215.1,666.9L1214.1,667.2L1213.1,666.6L1212.1,668.2L1211.1,670.2L1210.1,672.1L1209.1,672.2L1208.1,673.6L1207.1,674.7L1206.1,677.3L1205.1,681.3L1204.1,684.1L1203.1,686.6L1202.1,688.5L1201.1,691.4L1200.1,695.9L1199.1,695.9L1198.1,697.1L1197.1,698.7L1196.1,698.3L1195.1,698.5L1194.1,697.1L1193.1,696.4L1192.1,679.2L1191.1,632.7L1190.1,581L1189.1,589.7L1188.1,656.1L1187.1,658.1L1186.1,660.4L1185.1,660.8L1184.1,658.9L1183.1,658.9L1182.1,658.5L1181.1,657.4L1180.1,659.5L1179.1,659.2L1178.1,660.4L1177.1,659.2L1176.1,655.8L1175.1,657.4L1174.1,659.4L1173.1,658.5L1172.1,658.3L1171.1,661.9L1170.1,658.7L1169.1,656.5L1168.1,656.7L1167.1,659.3L1166.1,661.3L1165.1,660.8L1164.1,661.6L1163.1,662.1L1162.1,660L1161.1,662.1L1160.1,661.2L1159.1,663.7L1158.1,660.9L1157.1,663.3L1156.1,664.1L1155.1,661.2L1154.1,661.9L1153.1,659.3L1152.1,659L1151.1,659.8L1150.1,660.3L1149.1,662.1L1148.1,661.9L1147.1,661.2L1146.1,658.2L1145.1,658L1144.1,658.1L1143.1,659.7L1142.1,660.3L1141.1,661.9L1140.1,660.3L1139.1,663.2L1138.1,662.8L1137.1,661.1L1136.1,659.5L1135.1,661.3L1134.1,659.1L1133.1,658L1132.1,657.3L1131.1,656.7L1130.1,660L1129.1,660.1L1128.1,659.7L1127.1,658.4L1126.1,658.7L1125.1,661.8L1124.1,664L1123.1,660.8L1122.1,659.7L1121.1,663.7L1120.1,667.8L1119.1,660.9L1118.1,660.9L1117.1,663.5L1116.1,663.9L1115.1,662.2L1114.1,660.9L1113.1,663.1L1112.1,664.1L1111.1,659.5L1110.1,660.6L1109.1,658.9L1108.1,658.5L1107.1,659.6L1106.1,660.9L1105.1,666.2L1104.1,662.3L1103.1,663L1102.1,659.9L1101.1,660.9L1100.1,659.9L1099.1,663.5L1098.1,662.1L1097.1,663.2L1096.1,663.3L1095.1,662.8L1094.1,662.2L1093.1,664.9L1092.1,663.4L1091.1,663.7L1090.1,662.4L1089.1,663.8L1088.1,661.5L1087.1,661.7L1086.1,661.5L1085.1,662.9L1084.1,661.9L1083.1,662.5L1082.1,661.6L1081.1,663.2L1080.1,667.1L1079.1,664.1L1078.1,665.7L1077.1,664L1076.1,663.6L1075.1,661.5L1074.1,661.9L1073.1,660.5L1072.1,659.9L1071.1,661.1L1070.1,660.6L1069.1,660.7L1068.1,661.2L1067.1,660.7L1066.1,661.3L1065.1,662.1L1064.1,661L1063.1,660.7L1062.1,661.5L1061.1,660.8L1060.1,659.9L1059.1,660.7L1058.1,662.7L1057.1,662.1L1056.1,663.4L1055.1,666.2L1054.1,665.2L1053.1,663.7L1052.1,664.1L1051.1,661.9L1050.1,664.9L1049.1,665.2L1048.1,663.6L1047.1,665.4L1046.1,667.4L1045.1,664.9L1044.1,665.4L1043.1,665.6L1042.1,663.5L1041.1,660.4L1040.1,660.2L1039.1,659.7L1038.1,660.7L1037.1,660.5L1036.1,659.2L1035.1,659.5L1034.1,658.1L1033.1,658.9L1032.1,658L1031.1,659.4L1030.1,660.4L1029.1,659.9L1028.1,662.6L1027.1,660.3L1026.1,662.3L1025.1,663L1024,662.4L1023,661.5L1022,660.4L1021,660.9L1020,660.9L1019,662.4L1018,661.5L1017,660L1016,660.1L1015,663.2L1014,664.3L1013,663.3L1012,660.7L1011,662.4L1010,665.2L1009,666.8L1008,666.7L1007,663.9L1006,663L1005,662.4L1004,661.7L1003,660.8L1002,663.1L1001,665.1L1000,665.3L999,664.5L998,662.8L997,663.1L996,662.5L995,664.4L994,662.6L993,667.6L992,666.2L991,667.1L990,665.6L989,663L988,661.7L987,660.5L986,661.1L985,663.5L984,663.6L983,666L982,661.9L981,662.3L980,660.7L979,665.5L978,665.3L977,665.9L976,665.4L975,664.3L974,662.8L973,663.2L972,662.5L971,662.3L970,662.4L969,661.9L968,663L967,666.7L966,664L965,663.1L964,663.4L963,664.8L962,664.3L961,664L960,662.9L959,665.1L958,660.2L957,660.2L956,659.7L955,661.1L954,661.9L953,663.3L952,665.4L951,665.3L950,663.1L949,661.7L948,664.3L947,663.2L946,661.3L945,660.3L944,659.8L943,660.8L942,663.6L941,662.5L940,663.7L939,662.5L938,661.8L937,664.7L936,664.9L935,662.6L934,661.7L933,663.7L932,664.4L931,663.8L930,666.5L929,662.8L928,663.2L927,663.9L926,665.3L925,663.9L924,661.6L923,660.6L922,659.7L921,661.5L920,661.1L919,662.1L918,662L917,663.1L916,661L915,662.6L914,665.2L913,662.7L912,662.6L911,659.8L910,661.4L909,663.1L908,661.7L907,663.7L906,662.9L905,666.8L904,663.1Z" fill="#1f77b4" stroke="#1f77b4" stroke-width="0.5" stroke-linejoin="round" clip-path="url(#cj)"/>
<rect x="911.3" y="665.5" width="216.7" height="45.2" rx="3" ry="3" fill="#fff" fill-opacity="0.92" stroke="#ccc" stroke-opacity="0.85" stroke-width="1.7"/>
<line x1="916" y1="688.4" x2="950.3" y2="688.4" stroke="#1f77b4" stroke-width="2.8" />
<text x="961.9" y="685" font-size="15.6" text-anchor="start" letter-spacing="-0.08">PRL response (XOR)</text>
<text x="961.9" y="702.4" font-size="15.6" text-anchor="start" letter-spacing="-0.08">input: branches A+B</text>
<rect x="904" y="475" width="723.3" height="243" fill="none" stroke="#000" stroke-width="2.3"/>
<line x1="897.25" y1="718" x2="904" y2="718" stroke="#000" stroke-width="2.3" />
<text x="890.3" y="725.6" font-size="19.25" text-anchor="end" >0</text>
<line x1="897.25" y1="648.57" x2="904" y2="648.57" stroke="#000" stroke-width="2.3" />
<text x="890.3" y="656.17" font-size="19.25" text-anchor="end" >20</text>
<line x1="897.25" y1="579.14" x2="904" y2="579.14" stroke="#000" stroke-width="2.3" />
<text x="890.3" y="586.74" font-size="19.25" text-anchor="end" >40</text>
<line x1="897.25" y1="509.71" x2="904" y2="509.71" stroke="#000" stroke-width="2.3" />
<text x="890.3" y="517.31" font-size="19.25" text-anchor="end" >60</text>
<line x1="904" y1="718" x2="904" y2="724.75" stroke="#000" stroke-width="2.3" />
<text x="904" y="746.3" font-size="19.25" text-anchor="middle" >0.00</text>
<line x1="994.41" y1="718" x2="994.41" y2="724.75" stroke="#000" stroke-width="2.3" />
<text x="994.41" y="746.3" font-size="19.25" text-anchor="middle" >0.25</text>
<line x1="1084.83" y1="718" x2="1084.83" y2="724.75" stroke="#000" stroke-width="2.3" />
<text x="1084.83" y="746.3" font-size="19.25" text-anchor="middle" >0.50</text>
<line x1="1175.24" y1="718" x2="1175.24" y2="724.75" stroke="#000" stroke-width="2.3" />
<text x="1175.24" y="746.3" font-size="19.25" text-anchor="middle" >0.75</text>
<line x1="1265.65" y1="718" x2="1265.65" y2="724.75" stroke="#000" stroke-width="2.3" />
<text x="1265.65" y="746.3" font-size="19.25" text-anchor="middle" >1.00</text>
<line x1="1356.06" y1="718" x2="1356.06" y2="724.75" stroke="#000" stroke-width="2.3" />
<text x="1356.06" y="746.3" font-size="19.25" text-anchor="middle" >1.25</text>
<line x1="1446.47" y1="718" x2="1446.47" y2="724.75" stroke="#000" stroke-width="2.3" />
<text x="1446.47" y="746.3" font-size="19.25" text-anchor="middle" >1.50</text>
<line x1="1536.89" y1="718" x2="1536.89" y2="724.75" stroke="#000" stroke-width="2.3" />
<text x="1536.89" y="746.3" font-size="19.25" text-anchor="middle" >1.75</text>
<line x1="1627.3" y1="718" x2="1627.3" y2="724.75" stroke="#000" stroke-width="2.3" />
<text x="1627.3" y="746.3" font-size="19.25" text-anchor="middle" >2.00</text>
<text x="832" y="596.3" font-size="19.25" text-anchor="middle" transform="rotate(-90 832 596.3)" >PD voltage</text>
<text x="854" y="596.3" font-size="19.25" text-anchor="middle" transform="rotate(-90 854 596.3)" >[mV]</text>
<text x="911" y="507.2" font-size="37.2" text-anchor="start" class="lb">(j)</text>
<text x="979.8" y="500.6" font-size="23.4" text-anchor="start" >A✘, B✘</text>
<text x="1168.1" y="500.6" font-size="23.4" text-anchor="start" >A☑, B✘</text>
<text x="1352.8" y="500.6" font-size="23.4" text-anchor="start" >A✘, B☑</text>
<text x="1541.1" y="500.6" font-size="23.4" text-anchor="start" >A☑, B☑</text>
<text x="1264.7" y="773" font-size="19.25" text-anchor="middle">Time [<tspan font-style="italic">μ</tspan>s]</text>
</svg></body></html>
